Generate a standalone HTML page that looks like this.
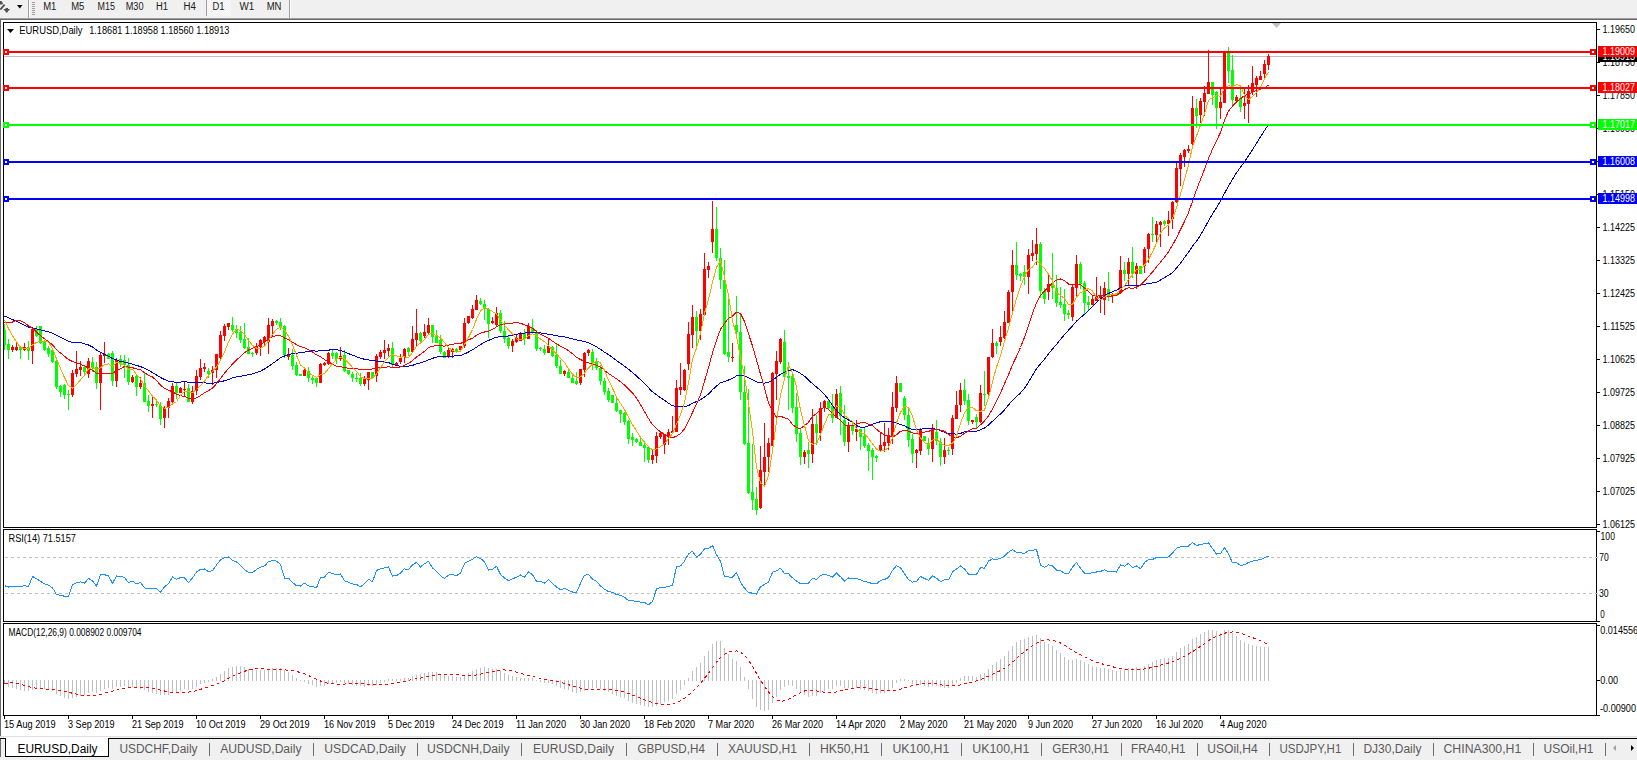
<!DOCTYPE html><html><head><meta charset="utf-8"><style>html,body{margin:0;padding:0;background:#fff;overflow:hidden}svg{display:block}text{font-family:"Liberation Sans",sans-serif}</style></head><body>
<svg width="1637" height="760" viewBox="0 0 1637 760">
<rect x="0" y="0" width="1637" height="760" fill="#fff"/>
<rect x="0" y="0" width="1637" height="18" fill="#f0f0f0"/>
<rect x="0" y="18" width="1637" height="1" fill="#a0a0a0"/>
<rect x="0" y="19" width="1637" height="1" fill="#696969"/>
<rect x="28" y="0" width="1" height="18" fill="#a0a0a0"/>
<rect x="29" y="0" width="1" height="18" fill="#fff"/>
<rect x="32" y="2" width="3" height="1" fill="#a0a0a0"/>
<rect x="32" y="4" width="3" height="1" fill="#a0a0a0"/>
<rect x="32" y="6" width="3" height="1" fill="#a0a0a0"/>
<rect x="32" y="8" width="3" height="1" fill="#a0a0a0"/>
<rect x="32" y="10" width="3" height="1" fill="#a0a0a0"/>
<rect x="32" y="12" width="3" height="1" fill="#a0a0a0"/>
<rect x="32" y="14" width="3" height="1" fill="#a0a0a0"/>
<rect x="289" y="0" width="1" height="18" fill="#a0a0a0"/>
<rect x="290" y="0" width="1" height="18" fill="#fff"/>
<rect x="206" y="0" width="1" height="16" fill="#a0a0a0"/>
<defs><pattern id="chk" width="2" height="2" patternUnits="userSpaceOnUse"><rect width="2" height="2" fill="#f0f0f0"/><rect width="1" height="1" fill="#fafafa"/><rect x="1" y="1" width="1" height="1" fill="#fafafa"/></pattern></defs>
<rect x="207" y="0" width="24" height="16" fill="url(#chk)"/>
<path d="M0 1 L1.5 1 L3 3.5 L2.2 4.5 L0 4.5 Z" fill="#505050"/>
<path d="M4.6 4.6 L0.3 9.6" stroke="#505050" stroke-width="1.8" fill="none"/>
<path d="M5.5 8 L8 8 L8 9 L10 9 L6.75 13 L3.3 9 L5.5 9 Z" fill="#505050"/>
<path d="M17 5 L22.5 5 L19.75 8.5 Z" fill="#000"/>
<text x="43.2" y="10" font-size="10" fill="#1a1a1a" textLength="13.2" lengthAdjust="spacingAndGlyphs">M1</text>
<text x="71.2" y="10" font-size="10" fill="#1a1a1a" textLength="13.2" lengthAdjust="spacingAndGlyphs">M5</text>
<text x="97.6" y="10" font-size="10" fill="#1a1a1a" textLength="17.4" lengthAdjust="spacingAndGlyphs">M15</text>
<text x="125.7" y="10" font-size="10" fill="#1a1a1a" textLength="17.8" lengthAdjust="spacingAndGlyphs">M30</text>
<text x="156" y="10" font-size="10" fill="#1a1a1a" textLength="12" lengthAdjust="spacingAndGlyphs">H1</text>
<text x="183.4" y="10" font-size="10" fill="#1a1a1a" textLength="12.4" lengthAdjust="spacingAndGlyphs">H4</text>
<text x="212.5" y="10" font-size="10" fill="#1a1a1a" textLength="12.0" lengthAdjust="spacingAndGlyphs">D1</text>
<text x="239.5" y="10" font-size="10" fill="#1a1a1a" textLength="14.8" lengthAdjust="spacingAndGlyphs">W1</text>
<text x="266.7" y="10" font-size="10" fill="#1a1a1a" textLength="14.8" lengthAdjust="spacingAndGlyphs">MN</text>
<rect x="0" y="20" width="1" height="716" fill="#696969"/>
<rect x="0" y="736" width="1637" height="1" fill="#e0e0e0"/>
<rect x="3" y="22" width="1594" height="1" fill="#000"/>
<rect x="3" y="527" width="1594" height="1" fill="#000"/>
<rect x="3" y="22" width="1" height="506" fill="#000"/>
<rect x="1596" y="22" width="1" height="506" fill="#000"/>
<rect x="3" y="529" width="1594" height="1" fill="#000"/>
<rect x="3" y="621" width="1594" height="1" fill="#000"/>
<rect x="3" y="529" width="1" height="93" fill="#000"/>
<rect x="1596" y="529" width="1" height="93" fill="#000"/>
<rect x="3" y="623" width="1594" height="1" fill="#000"/>
<rect x="3" y="715" width="1594" height="1" fill="#000"/>
<rect x="3" y="623" width="1" height="93" fill="#000"/>
<rect x="1596" y="623" width="1" height="93" fill="#000"/>
<rect x="1597" y="29" width="3" height="1" fill="#000"/>
<text x="1602.5" y="33" font-size="10" fill="#000" textLength="32.4" lengthAdjust="spacingAndGlyphs">1.19650</text>
<rect x="1597" y="62" width="3" height="1" fill="#000"/>
<text x="1602.5" y="66" font-size="10" fill="#000" textLength="32.4" lengthAdjust="spacingAndGlyphs">1.18750</text>
<rect x="1597" y="95" width="3" height="1" fill="#000"/>
<text x="1602.5" y="99" font-size="10" fill="#000" textLength="32.4" lengthAdjust="spacingAndGlyphs">1.17850</text>
<rect x="1597" y="128" width="3" height="1" fill="#000"/>
<text x="1602.5" y="132" font-size="10" fill="#000" textLength="32.4" lengthAdjust="spacingAndGlyphs">1.16950</text>
<rect x="1597" y="161" width="3" height="1" fill="#000"/>
<text x="1602.5" y="165" font-size="10" fill="#000" textLength="32.4" lengthAdjust="spacingAndGlyphs">1.16050</text>
<rect x="1597" y="194" width="3" height="1" fill="#000"/>
<text x="1602.5" y="198" font-size="10" fill="#000" textLength="32.4" lengthAdjust="spacingAndGlyphs">1.15150</text>
<rect x="1597" y="227" width="3" height="1" fill="#000"/>
<text x="1602.5" y="231" font-size="10" fill="#000" textLength="32.4" lengthAdjust="spacingAndGlyphs">1.14225</text>
<rect x="1597" y="260" width="3" height="1" fill="#000"/>
<text x="1602.5" y="264" font-size="10" fill="#000" textLength="32.4" lengthAdjust="spacingAndGlyphs">1.13325</text>
<rect x="1597" y="293" width="3" height="1" fill="#000"/>
<text x="1602.5" y="297" font-size="10" fill="#000" textLength="32.4" lengthAdjust="spacingAndGlyphs">1.12425</text>
<rect x="1597" y="326" width="3" height="1" fill="#000"/>
<text x="1602.5" y="330" font-size="10" fill="#000" textLength="32.4" lengthAdjust="spacingAndGlyphs">1.11525</text>
<rect x="1597" y="359" width="3" height="1" fill="#000"/>
<text x="1602.5" y="363" font-size="10" fill="#000" textLength="32.4" lengthAdjust="spacingAndGlyphs">1.10625</text>
<rect x="1597" y="392" width="3" height="1" fill="#000"/>
<text x="1602.5" y="396" font-size="10" fill="#000" textLength="32.4" lengthAdjust="spacingAndGlyphs">1.09725</text>
<rect x="1597" y="425" width="3" height="1" fill="#000"/>
<text x="1602.5" y="429" font-size="10" fill="#000" textLength="32.4" lengthAdjust="spacingAndGlyphs">1.08825</text>
<rect x="1597" y="458" width="3" height="1" fill="#000"/>
<text x="1602.5" y="462" font-size="10" fill="#000" textLength="32.4" lengthAdjust="spacingAndGlyphs">1.07925</text>
<rect x="1597" y="491" width="3" height="1" fill="#000"/>
<text x="1602.5" y="495" font-size="10" fill="#000" textLength="32.4" lengthAdjust="spacingAndGlyphs">1.07025</text>
<rect x="1597" y="524" width="3" height="1" fill="#000"/>
<text x="1602.5" y="528" font-size="10" fill="#000" textLength="32.4" lengthAdjust="spacingAndGlyphs">1.06125</text>
<g shape-rendering="crispEdges">
<rect x="4" y="56" width="1592" height="1" fill="#c0c0c0"/>
<rect x="4" y="324" width="1" height="26" fill="#00ff00"/>
<rect x="4" y="330" width="2" height="15" fill="#00ff00"/>
<rect x="8" y="339" width="1" height="20" fill="#00ff00"/>
<rect x="7" y="344" width="3" height="6" fill="#00ff00"/>
<rect x="12" y="345" width="1" height="7" fill="#ff0000"/>
<rect x="11" y="347" width="3" height="3" fill="#ff0000"/>
<rect x="16" y="341" width="1" height="10" fill="#ff0000"/>
<rect x="15" y="347" width="3" height="3" fill="#ff0000"/>
<rect x="20" y="346" width="1" height="13" fill="#00ff00"/>
<rect x="19" y="347" width="3" height="3" fill="#00ff00"/>
<rect x="24" y="343" width="1" height="8" fill="#ff0000"/>
<rect x="23" y="347" width="3" height="3" fill="#ff0000"/>
<rect x="28" y="341" width="1" height="19" fill="#00ff00"/>
<rect x="27" y="347" width="3" height="4" fill="#00ff00"/>
<rect x="32" y="328" width="1" height="36" fill="#ff0000"/>
<rect x="31" y="329" width="3" height="22" fill="#ff0000"/>
<rect x="36" y="326" width="1" height="11" fill="#00ff00"/>
<rect x="35" y="329" width="3" height="7" fill="#00ff00"/>
<rect x="40" y="326" width="1" height="18" fill="#00ff00"/>
<rect x="39" y="326" width="3" height="17" fill="#00ff00"/>
<rect x="44" y="340" width="1" height="11" fill="#00ff00"/>
<rect x="43" y="342" width="3" height="8" fill="#00ff00"/>
<rect x="48" y="346" width="1" height="11" fill="#00ff00"/>
<rect x="47" y="348" width="3" height="6" fill="#00ff00"/>
<rect x="52" y="348" width="1" height="15" fill="#00ff00"/>
<rect x="51" y="350" width="3" height="12" fill="#00ff00"/>
<rect x="56" y="360" width="1" height="29" fill="#00ff00"/>
<rect x="55" y="361" width="3" height="26" fill="#00ff00"/>
<rect x="60" y="385" width="1" height="12" fill="#00ff00"/>
<rect x="59" y="386" width="3" height="6" fill="#00ff00"/>
<rect x="64" y="384" width="1" height="15" fill="#00ff00"/>
<rect x="63" y="385" width="3" height="10" fill="#00ff00"/>
<rect x="68" y="390" width="1" height="20" fill="#00ff00"/>
<rect x="67" y="394" width="3" height="1" fill="#00ff00"/>
<rect x="72" y="370" width="1" height="27" fill="#ff0000"/>
<rect x="71" y="373" width="3" height="22" fill="#ff0000"/>
<rect x="76" y="351" width="1" height="26" fill="#ff0000"/>
<rect x="75" y="369" width="3" height="5" fill="#ff0000"/>
<rect x="80" y="361" width="1" height="15" fill="#ff0000"/>
<rect x="79" y="367" width="3" height="3" fill="#ff0000"/>
<rect x="84" y="366" width="1" height="8" fill="#00ff00"/>
<rect x="83" y="367" width="3" height="5" fill="#00ff00"/>
<rect x="88" y="358" width="1" height="20" fill="#ff0000"/>
<rect x="87" y="361" width="3" height="13" fill="#ff0000"/>
<rect x="92" y="357" width="1" height="15" fill="#00ff00"/>
<rect x="91" y="362" width="3" height="6" fill="#00ff00"/>
<rect x="96" y="362" width="1" height="27" fill="#00ff00"/>
<rect x="95" y="367" width="3" height="16" fill="#00ff00"/>
<rect x="100" y="353" width="1" height="57" fill="#ff0000"/>
<rect x="99" y="355" width="3" height="28" fill="#ff0000"/>
<rect x="104" y="342" width="1" height="21" fill="#ff0000"/>
<rect x="103" y="355" width="3" height="1" fill="#ff0000"/>
<rect x="108" y="353" width="1" height="6" fill="#00ff00"/>
<rect x="107" y="354" width="3" height="5" fill="#00ff00"/>
<rect x="112" y="351" width="1" height="35" fill="#00ff00"/>
<rect x="111" y="353" width="3" height="28" fill="#00ff00"/>
<rect x="116" y="358" width="1" height="29" fill="#ff0000"/>
<rect x="115" y="360" width="3" height="21" fill="#ff0000"/>
<rect x="120" y="355" width="1" height="12" fill="#00ff00"/>
<rect x="119" y="359" width="3" height="4" fill="#00ff00"/>
<rect x="124" y="355" width="1" height="23" fill="#00ff00"/>
<rect x="123" y="360" width="3" height="5" fill="#00ff00"/>
<rect x="128" y="358" width="1" height="27" fill="#00ff00"/>
<rect x="127" y="365" width="3" height="17" fill="#00ff00"/>
<rect x="132" y="375" width="1" height="8" fill="#ff0000"/>
<rect x="131" y="377" width="3" height="5" fill="#ff0000"/>
<rect x="136" y="374" width="1" height="22" fill="#00ff00"/>
<rect x="135" y="376" width="3" height="11" fill="#00ff00"/>
<rect x="140" y="377" width="1" height="12" fill="#ff0000"/>
<rect x="139" y="383" width="3" height="4" fill="#ff0000"/>
<rect x="144" y="373" width="1" height="29" fill="#00ff00"/>
<rect x="143" y="383" width="3" height="19" fill="#00ff00"/>
<rect x="148" y="395" width="1" height="17" fill="#00ff00"/>
<rect x="147" y="401" width="3" height="5" fill="#00ff00"/>
<rect x="152" y="397" width="1" height="21" fill="#ff0000"/>
<rect x="151" y="404" width="3" height="2" fill="#ff0000"/>
<rect x="156" y="401" width="1" height="6" fill="#00ff00"/>
<rect x="155" y="404" width="3" height="1" fill="#00ff00"/>
<rect x="160" y="402" width="1" height="23" fill="#00ff00"/>
<rect x="159" y="406" width="3" height="13" fill="#00ff00"/>
<rect x="164" y="406" width="1" height="22" fill="#ff0000"/>
<rect x="163" y="408" width="3" height="10" fill="#ff0000"/>
<rect x="168" y="398" width="1" height="20" fill="#ff0000"/>
<rect x="167" y="401" width="3" height="7" fill="#ff0000"/>
<rect x="172" y="383" width="1" height="21" fill="#ff0000"/>
<rect x="171" y="386" width="3" height="16" fill="#ff0000"/>
<rect x="176" y="382" width="1" height="17" fill="#00ff00"/>
<rect x="175" y="386" width="3" height="7" fill="#00ff00"/>
<rect x="180" y="387" width="1" height="6" fill="#ff0000"/>
<rect x="179" y="388" width="3" height="5" fill="#ff0000"/>
<rect x="184" y="382" width="1" height="14" fill="#ff0000"/>
<rect x="183" y="389" width="3" height="1" fill="#ff0000"/>
<rect x="188" y="384" width="1" height="18" fill="#00ff00"/>
<rect x="187" y="388" width="3" height="14" fill="#00ff00"/>
<rect x="192" y="386" width="1" height="18" fill="#ff0000"/>
<rect x="191" y="391" width="3" height="11" fill="#ff0000"/>
<rect x="196" y="370" width="1" height="25" fill="#ff0000"/>
<rect x="195" y="376" width="3" height="15" fill="#ff0000"/>
<rect x="200" y="359" width="1" height="21" fill="#ff0000"/>
<rect x="199" y="368" width="3" height="9" fill="#ff0000"/>
<rect x="204" y="363" width="1" height="9" fill="#ff0000"/>
<rect x="203" y="367" width="3" height="2" fill="#ff0000"/>
<rect x="208" y="368" width="1" height="10" fill="#00ff00"/>
<rect x="207" y="371" width="3" height="3" fill="#00ff00"/>
<rect x="212" y="366" width="1" height="19" fill="#ff0000"/>
<rect x="211" y="370" width="3" height="3" fill="#ff0000"/>
<rect x="216" y="354" width="1" height="24" fill="#ff0000"/>
<rect x="215" y="354" width="3" height="16" fill="#ff0000"/>
<rect x="220" y="331" width="1" height="28" fill="#ff0000"/>
<rect x="219" y="335" width="3" height="23" fill="#ff0000"/>
<rect x="224" y="324" width="1" height="17" fill="#ff0000"/>
<rect x="223" y="326" width="3" height="10" fill="#ff0000"/>
<rect x="228" y="323" width="1" height="7" fill="#ff0000"/>
<rect x="227" y="323" width="3" height="4" fill="#ff0000"/>
<rect x="232" y="317" width="1" height="15" fill="#00ff00"/>
<rect x="231" y="325" width="3" height="5" fill="#00ff00"/>
<rect x="236" y="325" width="1" height="13" fill="#00ff00"/>
<rect x="235" y="329" width="3" height="4" fill="#00ff00"/>
<rect x="240" y="326" width="1" height="17" fill="#00ff00"/>
<rect x="239" y="332" width="3" height="8" fill="#00ff00"/>
<rect x="244" y="323" width="1" height="26" fill="#00ff00"/>
<rect x="243" y="339" width="3" height="9" fill="#00ff00"/>
<rect x="248" y="338" width="1" height="16" fill="#00ff00"/>
<rect x="247" y="347" width="3" height="7" fill="#00ff00"/>
<rect x="252" y="352" width="1" height="5" fill="#00ff00"/>
<rect x="251" y="353" width="3" height="1" fill="#00ff00"/>
<rect x="256" y="343" width="1" height="12" fill="#ff0000"/>
<rect x="255" y="346" width="3" height="7" fill="#ff0000"/>
<rect x="260" y="339" width="1" height="17" fill="#ff0000"/>
<rect x="259" y="340" width="3" height="7" fill="#ff0000"/>
<rect x="264" y="336" width="1" height="10" fill="#ff0000"/>
<rect x="263" y="337" width="3" height="5" fill="#ff0000"/>
<rect x="268" y="318" width="1" height="36" fill="#ff0000"/>
<rect x="267" y="325" width="3" height="17" fill="#ff0000"/>
<rect x="272" y="319" width="1" height="17" fill="#ff0000"/>
<rect x="271" y="321" width="3" height="5" fill="#ff0000"/>
<rect x="276" y="320" width="1" height="5" fill="#00ff00"/>
<rect x="275" y="321" width="3" height="2" fill="#00ff00"/>
<rect x="280" y="318" width="1" height="12" fill="#00ff00"/>
<rect x="279" y="322" width="3" height="6" fill="#00ff00"/>
<rect x="284" y="325" width="1" height="33" fill="#00ff00"/>
<rect x="283" y="326" width="3" height="29" fill="#00ff00"/>
<rect x="288" y="348" width="1" height="12" fill="#ff0000"/>
<rect x="287" y="354" width="3" height="3" fill="#ff0000"/>
<rect x="292" y="349" width="1" height="21" fill="#00ff00"/>
<rect x="291" y="355" width="3" height="11" fill="#00ff00"/>
<rect x="296" y="362" width="1" height="14" fill="#00ff00"/>
<rect x="295" y="365" width="3" height="10" fill="#00ff00"/>
<rect x="300" y="374" width="1" height="2" fill="#00ff00"/>
<rect x="299" y="374" width="3" height="2" fill="#00ff00"/>
<rect x="304" y="368" width="1" height="8" fill="#ff0000"/>
<rect x="303" y="370" width="3" height="6" fill="#ff0000"/>
<rect x="308" y="367" width="1" height="15" fill="#00ff00"/>
<rect x="307" y="371" width="3" height="7" fill="#00ff00"/>
<rect x="312" y="376" width="1" height="8" fill="#00ff00"/>
<rect x="311" y="378" width="3" height="2" fill="#00ff00"/>
<rect x="316" y="377" width="1" height="10" fill="#00ff00"/>
<rect x="315" y="378" width="3" height="5" fill="#00ff00"/>
<rect x="320" y="363" width="1" height="20" fill="#ff0000"/>
<rect x="319" y="364" width="3" height="19" fill="#ff0000"/>
<rect x="324" y="362" width="1" height="4" fill="#ff0000"/>
<rect x="323" y="363" width="3" height="2" fill="#ff0000"/>
<rect x="328" y="352" width="1" height="13" fill="#ff0000"/>
<rect x="327" y="353" width="3" height="11" fill="#ff0000"/>
<rect x="332" y="350" width="1" height="9" fill="#00ff00"/>
<rect x="331" y="353" width="3" height="3" fill="#00ff00"/>
<rect x="336" y="352" width="1" height="12" fill="#00ff00"/>
<rect x="335" y="353" width="3" height="6" fill="#00ff00"/>
<rect x="340" y="347" width="1" height="14" fill="#ff0000"/>
<rect x="339" y="356" width="3" height="3" fill="#ff0000"/>
<rect x="344" y="350" width="1" height="22" fill="#00ff00"/>
<rect x="343" y="355" width="3" height="16" fill="#00ff00"/>
<rect x="348" y="370" width="1" height="5" fill="#00ff00"/>
<rect x="347" y="370" width="3" height="4" fill="#00ff00"/>
<rect x="352" y="372" width="1" height="10" fill="#00ff00"/>
<rect x="351" y="374" width="3" height="4" fill="#00ff00"/>
<rect x="356" y="373" width="1" height="9" fill="#00ff00"/>
<rect x="355" y="378" width="3" height="1" fill="#00ff00"/>
<rect x="360" y="373" width="1" height="13" fill="#00ff00"/>
<rect x="359" y="378" width="3" height="6" fill="#00ff00"/>
<rect x="364" y="376" width="1" height="10" fill="#ff0000"/>
<rect x="363" y="379" width="3" height="5" fill="#ff0000"/>
<rect x="368" y="372" width="1" height="18" fill="#ff0000"/>
<rect x="367" y="372" width="3" height="8" fill="#ff0000"/>
<rect x="372" y="372" width="1" height="6" fill="#00ff00"/>
<rect x="371" y="372" width="3" height="6" fill="#00ff00"/>
<rect x="376" y="354" width="1" height="28" fill="#ff0000"/>
<rect x="375" y="356" width="3" height="20" fill="#ff0000"/>
<rect x="380" y="350" width="1" height="9" fill="#ff0000"/>
<rect x="379" y="352" width="3" height="5" fill="#ff0000"/>
<rect x="384" y="340" width="1" height="19" fill="#ff0000"/>
<rect x="383" y="350" width="3" height="3" fill="#ff0000"/>
<rect x="388" y="344" width="1" height="13" fill="#ff0000"/>
<rect x="387" y="348" width="3" height="3" fill="#ff0000"/>
<rect x="392" y="342" width="1" height="26" fill="#00ff00"/>
<rect x="391" y="348" width="3" height="17" fill="#00ff00"/>
<rect x="396" y="362" width="1" height="4" fill="#ff0000"/>
<rect x="395" y="363" width="3" height="2" fill="#ff0000"/>
<rect x="400" y="354" width="1" height="10" fill="#ff0000"/>
<rect x="399" y="358" width="3" height="4" fill="#ff0000"/>
<rect x="404" y="348" width="1" height="15" fill="#ff0000"/>
<rect x="403" y="349" width="3" height="8" fill="#ff0000"/>
<rect x="408" y="347" width="1" height="9" fill="#00ff00"/>
<rect x="407" y="348" width="3" height="4" fill="#00ff00"/>
<rect x="412" y="326" width="1" height="26" fill="#ff0000"/>
<rect x="411" y="339" width="3" height="13" fill="#ff0000"/>
<rect x="416" y="309" width="1" height="37" fill="#ff0000"/>
<rect x="415" y="333" width="3" height="7" fill="#ff0000"/>
<rect x="420" y="332" width="1" height="10" fill="#00ff00"/>
<rect x="419" y="333" width="3" height="8" fill="#00ff00"/>
<rect x="424" y="324" width="1" height="14" fill="#ff0000"/>
<rect x="423" y="332" width="3" height="4" fill="#ff0000"/>
<rect x="428" y="318" width="1" height="16" fill="#ff0000"/>
<rect x="427" y="325" width="3" height="8" fill="#ff0000"/>
<rect x="432" y="325" width="1" height="18" fill="#00ff00"/>
<rect x="431" y="325" width="3" height="12" fill="#00ff00"/>
<rect x="436" y="330" width="1" height="13" fill="#00ff00"/>
<rect x="435" y="336" width="3" height="7" fill="#00ff00"/>
<rect x="440" y="335" width="1" height="19" fill="#00ff00"/>
<rect x="439" y="340" width="3" height="12" fill="#00ff00"/>
<rect x="444" y="351" width="1" height="7" fill="#00ff00"/>
<rect x="443" y="352" width="3" height="6" fill="#00ff00"/>
<rect x="448" y="348" width="1" height="10" fill="#ff0000"/>
<rect x="447" y="350" width="3" height="6" fill="#ff0000"/>
<rect x="452" y="348" width="1" height="10" fill="#ff0000"/>
<rect x="451" y="349" width="3" height="3" fill="#ff0000"/>
<rect x="456" y="348" width="1" height="5" fill="#00ff00"/>
<rect x="455" y="349" width="3" height="3" fill="#00ff00"/>
<rect x="460" y="346" width="1" height="6" fill="#ff0000"/>
<rect x="459" y="346" width="3" height="4" fill="#ff0000"/>
<rect x="464" y="318" width="1" height="30" fill="#ff0000"/>
<rect x="463" y="323" width="3" height="23" fill="#ff0000"/>
<rect x="468" y="316" width="1" height="8" fill="#ff0000"/>
<rect x="467" y="316" width="3" height="7" fill="#ff0000"/>
<rect x="472" y="305" width="1" height="14" fill="#ff0000"/>
<rect x="471" y="309" width="3" height="9" fill="#ff0000"/>
<rect x="476" y="295" width="1" height="15" fill="#ff0000"/>
<rect x="475" y="300" width="3" height="10" fill="#ff0000"/>
<rect x="480" y="298" width="1" height="7" fill="#00ff00"/>
<rect x="479" y="301" width="3" height="3" fill="#00ff00"/>
<rect x="484" y="300" width="1" height="20" fill="#00ff00"/>
<rect x="483" y="304" width="3" height="5" fill="#00ff00"/>
<rect x="488" y="308" width="1" height="30" fill="#00ff00"/>
<rect x="487" y="309" width="3" height="15" fill="#00ff00"/>
<rect x="492" y="317" width="1" height="7" fill="#ff0000"/>
<rect x="491" y="321" width="3" height="2" fill="#ff0000"/>
<rect x="496" y="307" width="1" height="19" fill="#ff0000"/>
<rect x="495" y="313" width="3" height="12" fill="#ff0000"/>
<rect x="500" y="310" width="1" height="23" fill="#00ff00"/>
<rect x="499" y="313" width="3" height="18" fill="#00ff00"/>
<rect x="504" y="321" width="1" height="22" fill="#00ff00"/>
<rect x="503" y="331" width="3" height="8" fill="#00ff00"/>
<rect x="508" y="336" width="1" height="13" fill="#00ff00"/>
<rect x="507" y="338" width="3" height="8" fill="#00ff00"/>
<rect x="512" y="339" width="1" height="13" fill="#ff0000"/>
<rect x="511" y="341" width="3" height="5" fill="#ff0000"/>
<rect x="516" y="335" width="1" height="8" fill="#ff0000"/>
<rect x="515" y="338" width="3" height="4" fill="#ff0000"/>
<rect x="520" y="332" width="1" height="9" fill="#ff0000"/>
<rect x="519" y="333" width="3" height="8" fill="#ff0000"/>
<rect x="524" y="329" width="1" height="16" fill="#00ff00"/>
<rect x="523" y="333" width="3" height="6" fill="#00ff00"/>
<rect x="528" y="323" width="1" height="16" fill="#ff0000"/>
<rect x="527" y="326" width="3" height="13" fill="#ff0000"/>
<rect x="532" y="319" width="1" height="15" fill="#00ff00"/>
<rect x="531" y="328" width="3" height="5" fill="#00ff00"/>
<rect x="536" y="330" width="1" height="21" fill="#00ff00"/>
<rect x="535" y="332" width="3" height="17" fill="#00ff00"/>
<rect x="540" y="347" width="1" height="4" fill="#00ff00"/>
<rect x="539" y="348" width="3" height="1" fill="#00ff00"/>
<rect x="544" y="345" width="1" height="10" fill="#00ff00"/>
<rect x="543" y="349" width="3" height="4" fill="#00ff00"/>
<rect x="548" y="339" width="1" height="14" fill="#ff0000"/>
<rect x="547" y="346" width="3" height="7" fill="#ff0000"/>
<rect x="552" y="346" width="1" height="11" fill="#00ff00"/>
<rect x="551" y="347" width="3" height="9" fill="#00ff00"/>
<rect x="556" y="344" width="1" height="24" fill="#00ff00"/>
<rect x="555" y="355" width="3" height="11" fill="#00ff00"/>
<rect x="560" y="360" width="1" height="14" fill="#00ff00"/>
<rect x="559" y="366" width="3" height="8" fill="#00ff00"/>
<rect x="564" y="370" width="1" height="6" fill="#ff0000"/>
<rect x="563" y="371" width="3" height="3" fill="#ff0000"/>
<rect x="568" y="369" width="1" height="9" fill="#00ff00"/>
<rect x="567" y="372" width="3" height="6" fill="#00ff00"/>
<rect x="572" y="374" width="1" height="9" fill="#00ff00"/>
<rect x="571" y="378" width="3" height="5" fill="#00ff00"/>
<rect x="576" y="372" width="1" height="13" fill="#00ff00"/>
<rect x="575" y="381" width="3" height="3" fill="#00ff00"/>
<rect x="580" y="369" width="1" height="16" fill="#ff0000"/>
<rect x="579" y="369" width="3" height="14" fill="#ff0000"/>
<rect x="584" y="352" width="1" height="25" fill="#ff0000"/>
<rect x="583" y="353" width="3" height="17" fill="#ff0000"/>
<rect x="588" y="349" width="1" height="7" fill="#ff0000"/>
<rect x="587" y="350" width="3" height="3" fill="#ff0000"/>
<rect x="592" y="349" width="1" height="21" fill="#00ff00"/>
<rect x="591" y="352" width="3" height="11" fill="#00ff00"/>
<rect x="596" y="358" width="1" height="12" fill="#00ff00"/>
<rect x="595" y="361" width="3" height="7" fill="#00ff00"/>
<rect x="600" y="365" width="1" height="20" fill="#00ff00"/>
<rect x="599" y="368" width="3" height="13" fill="#00ff00"/>
<rect x="604" y="378" width="1" height="17" fill="#00ff00"/>
<rect x="603" y="381" width="3" height="11" fill="#00ff00"/>
<rect x="608" y="388" width="1" height="14" fill="#00ff00"/>
<rect x="607" y="391" width="3" height="9" fill="#00ff00"/>
<rect x="612" y="395" width="1" height="8" fill="#00ff00"/>
<rect x="611" y="395" width="3" height="8" fill="#00ff00"/>
<rect x="616" y="398" width="1" height="14" fill="#00ff00"/>
<rect x="615" y="403" width="3" height="8" fill="#00ff00"/>
<rect x="620" y="410" width="1" height="13" fill="#00ff00"/>
<rect x="619" y="410" width="3" height="4" fill="#00ff00"/>
<rect x="624" y="412" width="1" height="13" fill="#00ff00"/>
<rect x="623" y="413" width="3" height="9" fill="#00ff00"/>
<rect x="628" y="420" width="1" height="24" fill="#00ff00"/>
<rect x="627" y="421" width="3" height="18" fill="#00ff00"/>
<rect x="632" y="433" width="1" height="13" fill="#00ff00"/>
<rect x="631" y="437" width="3" height="3" fill="#00ff00"/>
<rect x="636" y="438" width="1" height="5" fill="#00ff00"/>
<rect x="635" y="439" width="3" height="3" fill="#00ff00"/>
<rect x="640" y="438" width="1" height="8" fill="#00ff00"/>
<rect x="639" y="442" width="3" height="4" fill="#00ff00"/>
<rect x="644" y="441" width="1" height="21" fill="#00ff00"/>
<rect x="643" y="445" width="3" height="3" fill="#00ff00"/>
<rect x="648" y="446" width="1" height="17" fill="#00ff00"/>
<rect x="647" y="447" width="3" height="13" fill="#00ff00"/>
<rect x="652" y="449" width="1" height="15" fill="#ff0000"/>
<rect x="651" y="455" width="3" height="5" fill="#ff0000"/>
<rect x="656" y="432" width="1" height="31" fill="#ff0000"/>
<rect x="655" y="436" width="3" height="20" fill="#ff0000"/>
<rect x="660" y="431" width="1" height="8" fill="#ff0000"/>
<rect x="659" y="433" width="3" height="4" fill="#ff0000"/>
<rect x="664" y="434" width="1" height="20" fill="#ff0000"/>
<rect x="663" y="434" width="3" height="11" fill="#ff0000"/>
<rect x="668" y="429" width="1" height="16" fill="#ff0000"/>
<rect x="667" y="432" width="3" height="5" fill="#ff0000"/>
<rect x="672" y="416" width="1" height="18" fill="#ff0000"/>
<rect x="671" y="431" width="3" height="2" fill="#ff0000"/>
<rect x="676" y="380" width="1" height="52" fill="#ff0000"/>
<rect x="675" y="388" width="3" height="44" fill="#ff0000"/>
<rect x="680" y="363" width="1" height="32" fill="#ff0000"/>
<rect x="679" y="387" width="3" height="3" fill="#ff0000"/>
<rect x="684" y="369" width="1" height="22" fill="#ff0000"/>
<rect x="683" y="370" width="3" height="20" fill="#ff0000"/>
<rect x="688" y="322" width="1" height="48" fill="#ff0000"/>
<rect x="687" y="334" width="3" height="30" fill="#ff0000"/>
<rect x="692" y="305" width="1" height="43" fill="#ff0000"/>
<rect x="691" y="317" width="3" height="18" fill="#ff0000"/>
<rect x="696" y="311" width="1" height="35" fill="#00ff00"/>
<rect x="695" y="317" width="3" height="14" fill="#00ff00"/>
<rect x="700" y="309" width="1" height="31" fill="#ff0000"/>
<rect x="699" y="314" width="3" height="17" fill="#ff0000"/>
<rect x="704" y="253" width="1" height="62" fill="#ff0000"/>
<rect x="703" y="269" width="3" height="46" fill="#ff0000"/>
<rect x="708" y="262" width="1" height="16" fill="#ff0000"/>
<rect x="707" y="266" width="3" height="4" fill="#ff0000"/>
<rect x="712" y="201" width="1" height="52" fill="#ff0000"/>
<rect x="711" y="229" width="3" height="13" fill="#ff0000"/>
<rect x="716" y="207" width="1" height="54" fill="#00ff00"/>
<rect x="715" y="229" width="3" height="29" fill="#00ff00"/>
<rect x="720" y="248" width="1" height="41" fill="#00ff00"/>
<rect x="719" y="258" width="3" height="22" fill="#00ff00"/>
<rect x="724" y="260" width="1" height="95" fill="#00ff00"/>
<rect x="723" y="280" width="3" height="74" fill="#00ff00"/>
<rect x="728" y="299" width="1" height="63" fill="#00ff00"/>
<rect x="727" y="352" width="3" height="5" fill="#00ff00"/>
<rect x="732" y="343" width="1" height="19" fill="#ff0000"/>
<rect x="731" y="357" width="3" height="1" fill="#ff0000"/>
<rect x="736" y="296" width="1" height="38" fill="#00ff00"/>
<rect x="735" y="325" width="3" height="7" fill="#00ff00"/>
<rect x="740" y="313" width="1" height="87" fill="#00ff00"/>
<rect x="739" y="332" width="3" height="60" fill="#00ff00"/>
<rect x="744" y="366" width="1" height="79" fill="#00ff00"/>
<rect x="743" y="392" width="3" height="52" fill="#00ff00"/>
<rect x="748" y="389" width="1" height="105" fill="#00ff00"/>
<rect x="747" y="443" width="3" height="50" fill="#00ff00"/>
<rect x="752" y="444" width="1" height="66" fill="#00ff00"/>
<rect x="751" y="492" width="3" height="8" fill="#00ff00"/>
<rect x="756" y="487" width="1" height="28" fill="#00ff00"/>
<rect x="755" y="499" width="3" height="11" fill="#00ff00"/>
<rect x="760" y="446" width="1" height="63" fill="#ff0000"/>
<rect x="759" y="470" width="3" height="38" fill="#ff0000"/>
<rect x="764" y="423" width="1" height="62" fill="#ff0000"/>
<rect x="763" y="457" width="3" height="15" fill="#ff0000"/>
<rect x="768" y="438" width="1" height="34" fill="#ff0000"/>
<rect x="767" y="443" width="3" height="14" fill="#ff0000"/>
<rect x="772" y="372" width="1" height="74" fill="#ff0000"/>
<rect x="771" y="373" width="3" height="73" fill="#ff0000"/>
<rect x="776" y="351" width="1" height="49" fill="#ff0000"/>
<rect x="775" y="361" width="3" height="13" fill="#ff0000"/>
<rect x="780" y="338" width="1" height="26" fill="#ff0000"/>
<rect x="779" y="339" width="3" height="23" fill="#ff0000"/>
<rect x="784" y="330" width="1" height="47" fill="#00ff00"/>
<rect x="783" y="342" width="3" height="35" fill="#00ff00"/>
<rect x="788" y="362" width="1" height="48" fill="#00ff00"/>
<rect x="787" y="376" width="3" height="2" fill="#00ff00"/>
<rect x="792" y="373" width="1" height="40" fill="#00ff00"/>
<rect x="791" y="376" width="3" height="32" fill="#00ff00"/>
<rect x="796" y="393" width="1" height="49" fill="#00ff00"/>
<rect x="795" y="407" width="3" height="27" fill="#00ff00"/>
<rect x="800" y="429" width="1" height="36" fill="#00ff00"/>
<rect x="799" y="433" width="3" height="24" fill="#00ff00"/>
<rect x="804" y="450" width="1" height="14" fill="#ff0000"/>
<rect x="803" y="452" width="3" height="5" fill="#ff0000"/>
<rect x="808" y="442" width="1" height="26" fill="#00ff00"/>
<rect x="807" y="450" width="3" height="4" fill="#00ff00"/>
<rect x="812" y="409" width="1" height="54" fill="#ff0000"/>
<rect x="811" y="424" width="3" height="30" fill="#ff0000"/>
<rect x="816" y="415" width="1" height="30" fill="#00ff00"/>
<rect x="815" y="424" width="3" height="9" fill="#00ff00"/>
<rect x="820" y="402" width="1" height="39" fill="#ff0000"/>
<rect x="819" y="408" width="3" height="25" fill="#ff0000"/>
<rect x="824" y="400" width="1" height="12" fill="#ff0000"/>
<rect x="823" y="401" width="3" height="7" fill="#ff0000"/>
<rect x="828" y="400" width="1" height="10" fill="#00ff00"/>
<rect x="827" y="401" width="3" height="7" fill="#00ff00"/>
<rect x="832" y="394" width="1" height="29" fill="#00ff00"/>
<rect x="831" y="406" width="3" height="12" fill="#00ff00"/>
<rect x="836" y="389" width="1" height="29" fill="#ff0000"/>
<rect x="835" y="394" width="3" height="24" fill="#ff0000"/>
<rect x="840" y="386" width="1" height="49" fill="#00ff00"/>
<rect x="839" y="393" width="3" height="23" fill="#00ff00"/>
<rect x="844" y="405" width="1" height="41" fill="#00ff00"/>
<rect x="843" y="420" width="3" height="22" fill="#00ff00"/>
<rect x="848" y="422" width="1" height="30" fill="#ff0000"/>
<rect x="847" y="425" width="3" height="17" fill="#ff0000"/>
<rect x="852" y="423" width="1" height="12" fill="#00ff00"/>
<rect x="851" y="425" width="3" height="6" fill="#00ff00"/>
<rect x="856" y="420" width="1" height="21" fill="#ff0000"/>
<rect x="855" y="429" width="3" height="3" fill="#ff0000"/>
<rect x="860" y="429" width="1" height="21" fill="#00ff00"/>
<rect x="859" y="429" width="3" height="8" fill="#00ff00"/>
<rect x="864" y="428" width="1" height="20" fill="#00ff00"/>
<rect x="863" y="436" width="3" height="10" fill="#00ff00"/>
<rect x="868" y="443" width="1" height="28" fill="#00ff00"/>
<rect x="867" y="445" width="3" height="6" fill="#00ff00"/>
<rect x="872" y="448" width="1" height="32" fill="#00ff00"/>
<rect x="871" y="450" width="3" height="7" fill="#00ff00"/>
<rect x="876" y="455" width="1" height="7" fill="#00ff00"/>
<rect x="875" y="456" width="3" height="2" fill="#00ff00"/>
<rect x="880" y="433" width="1" height="18" fill="#ff0000"/>
<rect x="879" y="445" width="3" height="5" fill="#ff0000"/>
<rect x="884" y="423" width="1" height="29" fill="#ff0000"/>
<rect x="883" y="442" width="3" height="4" fill="#ff0000"/>
<rect x="888" y="428" width="1" height="22" fill="#ff0000"/>
<rect x="887" y="435" width="3" height="8" fill="#ff0000"/>
<rect x="892" y="392" width="1" height="52" fill="#ff0000"/>
<rect x="891" y="407" width="3" height="30" fill="#ff0000"/>
<rect x="896" y="376" width="1" height="36" fill="#ff0000"/>
<rect x="895" y="383" width="3" height="25" fill="#ff0000"/>
<rect x="900" y="383" width="1" height="9" fill="#00ff00"/>
<rect x="899" y="383" width="3" height="9" fill="#00ff00"/>
<rect x="904" y="396" width="1" height="24" fill="#00ff00"/>
<rect x="903" y="398" width="3" height="17" fill="#00ff00"/>
<rect x="908" y="409" width="1" height="38" fill="#00ff00"/>
<rect x="907" y="415" width="3" height="25" fill="#00ff00"/>
<rect x="912" y="434" width="1" height="29" fill="#00ff00"/>
<rect x="911" y="439" width="3" height="15" fill="#00ff00"/>
<rect x="916" y="449" width="1" height="19" fill="#ff0000"/>
<rect x="915" y="450" width="3" height="3" fill="#ff0000"/>
<rect x="920" y="428" width="1" height="27" fill="#ff0000"/>
<rect x="919" y="430" width="3" height="21" fill="#ff0000"/>
<rect x="924" y="436" width="1" height="5" fill="#00ff00"/>
<rect x="923" y="436" width="3" height="5" fill="#00ff00"/>
<rect x="928" y="438" width="1" height="17" fill="#00ff00"/>
<rect x="927" y="443" width="3" height="6" fill="#00ff00"/>
<rect x="932" y="424" width="1" height="38" fill="#ff0000"/>
<rect x="931" y="430" width="3" height="19" fill="#ff0000"/>
<rect x="936" y="420" width="1" height="25" fill="#00ff00"/>
<rect x="935" y="432" width="3" height="9" fill="#00ff00"/>
<rect x="940" y="438" width="1" height="28" fill="#00ff00"/>
<rect x="939" y="442" width="3" height="15" fill="#00ff00"/>
<rect x="944" y="438" width="1" height="26" fill="#ff0000"/>
<rect x="943" y="450" width="3" height="7" fill="#ff0000"/>
<rect x="948" y="447" width="1" height="8" fill="#00ff00"/>
<rect x="947" y="450" width="3" height="1" fill="#00ff00"/>
<rect x="952" y="415" width="1" height="40" fill="#ff0000"/>
<rect x="951" y="418" width="3" height="31" fill="#ff0000"/>
<rect x="956" y="391" width="1" height="28" fill="#ff0000"/>
<rect x="955" y="405" width="3" height="14" fill="#ff0000"/>
<rect x="960" y="383" width="1" height="29" fill="#ff0000"/>
<rect x="959" y="390" width="3" height="15" fill="#ff0000"/>
<rect x="964" y="379" width="1" height="26" fill="#00ff00"/>
<rect x="963" y="390" width="3" height="11" fill="#00ff00"/>
<rect x="968" y="394" width="1" height="31" fill="#00ff00"/>
<rect x="967" y="400" width="3" height="21" fill="#00ff00"/>
<rect x="972" y="420" width="1" height="4" fill="#ff0000"/>
<rect x="971" y="420" width="3" height="2" fill="#ff0000"/>
<rect x="976" y="414" width="1" height="14" fill="#00ff00"/>
<rect x="975" y="417" width="3" height="5" fill="#00ff00"/>
<rect x="980" y="385" width="1" height="38" fill="#ff0000"/>
<rect x="979" y="393" width="3" height="29" fill="#ff0000"/>
<rect x="984" y="371" width="1" height="35" fill="#00ff00"/>
<rect x="983" y="394" width="3" height="1" fill="#00ff00"/>
<rect x="988" y="357" width="1" height="38" fill="#ff0000"/>
<rect x="987" y="357" width="3" height="37" fill="#ff0000"/>
<rect x="992" y="329" width="1" height="29" fill="#ff0000"/>
<rect x="991" y="343" width="3" height="14" fill="#ff0000"/>
<rect x="996" y="341" width="1" height="13" fill="#00ff00"/>
<rect x="995" y="343" width="3" height="3" fill="#00ff00"/>
<rect x="1000" y="326" width="1" height="20" fill="#ff0000"/>
<rect x="999" y="337" width="3" height="5" fill="#ff0000"/>
<rect x="1004" y="311" width="1" height="28" fill="#ff0000"/>
<rect x="1003" y="322" width="3" height="16" fill="#ff0000"/>
<rect x="1008" y="290" width="1" height="33" fill="#ff0000"/>
<rect x="1007" y="292" width="3" height="31" fill="#ff0000"/>
<rect x="1012" y="250" width="1" height="61" fill="#ff0000"/>
<rect x="1011" y="265" width="3" height="27" fill="#ff0000"/>
<rect x="1016" y="242" width="1" height="38" fill="#00ff00"/>
<rect x="1015" y="265" width="3" height="10" fill="#00ff00"/>
<rect x="1020" y="273" width="1" height="8" fill="#00ff00"/>
<rect x="1019" y="274" width="3" height="2" fill="#00ff00"/>
<rect x="1024" y="265" width="1" height="20" fill="#00ff00"/>
<rect x="1023" y="272" width="3" height="5" fill="#00ff00"/>
<rect x="1028" y="249" width="1" height="45" fill="#ff0000"/>
<rect x="1027" y="255" width="3" height="22" fill="#ff0000"/>
<rect x="1032" y="240" width="1" height="21" fill="#ff0000"/>
<rect x="1031" y="253" width="3" height="3" fill="#ff0000"/>
<rect x="1036" y="228" width="1" height="37" fill="#ff0000"/>
<rect x="1035" y="244" width="3" height="10" fill="#ff0000"/>
<rect x="1040" y="242" width="1" height="56" fill="#00ff00"/>
<rect x="1039" y="244" width="3" height="47" fill="#00ff00"/>
<rect x="1044" y="288" width="1" height="16" fill="#00ff00"/>
<rect x="1043" y="291" width="3" height="8" fill="#00ff00"/>
<rect x="1048" y="275" width="1" height="25" fill="#ff0000"/>
<rect x="1047" y="284" width="3" height="8" fill="#ff0000"/>
<rect x="1052" y="253" width="1" height="46" fill="#00ff00"/>
<rect x="1051" y="283" width="3" height="5" fill="#00ff00"/>
<rect x="1056" y="275" width="1" height="32" fill="#00ff00"/>
<rect x="1055" y="288" width="3" height="15" fill="#00ff00"/>
<rect x="1060" y="287" width="1" height="21" fill="#00ff00"/>
<rect x="1059" y="302" width="3" height="3" fill="#00ff00"/>
<rect x="1064" y="289" width="1" height="32" fill="#00ff00"/>
<rect x="1063" y="304" width="3" height="10" fill="#00ff00"/>
<rect x="1068" y="310" width="1" height="9" fill="#00ff00"/>
<rect x="1067" y="313" width="3" height="2" fill="#00ff00"/>
<rect x="1072" y="285" width="1" height="36" fill="#ff0000"/>
<rect x="1071" y="287" width="3" height="30" fill="#ff0000"/>
<rect x="1076" y="255" width="1" height="41" fill="#ff0000"/>
<rect x="1075" y="264" width="3" height="24" fill="#ff0000"/>
<rect x="1080" y="262" width="1" height="27" fill="#00ff00"/>
<rect x="1079" y="264" width="3" height="20" fill="#00ff00"/>
<rect x="1084" y="281" width="1" height="33" fill="#00ff00"/>
<rect x="1083" y="283" width="3" height="20" fill="#00ff00"/>
<rect x="1088" y="296" width="1" height="15" fill="#00ff00"/>
<rect x="1087" y="302" width="3" height="3" fill="#00ff00"/>
<rect x="1092" y="295" width="1" height="10" fill="#ff0000"/>
<rect x="1091" y="299" width="3" height="6" fill="#ff0000"/>
<rect x="1096" y="277" width="1" height="24" fill="#ff0000"/>
<rect x="1095" y="297" width="3" height="4" fill="#ff0000"/>
<rect x="1100" y="286" width="1" height="27" fill="#ff0000"/>
<rect x="1099" y="295" width="3" height="3" fill="#ff0000"/>
<rect x="1104" y="282" width="1" height="33" fill="#ff0000"/>
<rect x="1103" y="288" width="3" height="12" fill="#ff0000"/>
<rect x="1108" y="272" width="1" height="29" fill="#00ff00"/>
<rect x="1107" y="289" width="3" height="7" fill="#00ff00"/>
<rect x="1112" y="293" width="1" height="10" fill="#ff0000"/>
<rect x="1111" y="294" width="3" height="2" fill="#ff0000"/>
<rect x="1116" y="293" width="1" height="3" fill="#00ff00"/>
<rect x="1115" y="293" width="3" height="3" fill="#00ff00"/>
<rect x="1120" y="256" width="1" height="38" fill="#ff0000"/>
<rect x="1119" y="270" width="3" height="23" fill="#ff0000"/>
<rect x="1124" y="262" width="1" height="19" fill="#00ff00"/>
<rect x="1123" y="270" width="3" height="4" fill="#00ff00"/>
<rect x="1128" y="258" width="1" height="27" fill="#ff0000"/>
<rect x="1127" y="262" width="3" height="12" fill="#ff0000"/>
<rect x="1132" y="247" width="1" height="31" fill="#00ff00"/>
<rect x="1131" y="262" width="3" height="12" fill="#00ff00"/>
<rect x="1136" y="263" width="1" height="26" fill="#ff0000"/>
<rect x="1135" y="266" width="3" height="8" fill="#ff0000"/>
<rect x="1140" y="266" width="1" height="8" fill="#00ff00"/>
<rect x="1139" y="266" width="3" height="8" fill="#00ff00"/>
<rect x="1144" y="247" width="1" height="26" fill="#ff0000"/>
<rect x="1143" y="249" width="3" height="17" fill="#ff0000"/>
<rect x="1148" y="233" width="1" height="30" fill="#ff0000"/>
<rect x="1147" y="234" width="3" height="15" fill="#ff0000"/>
<rect x="1152" y="217" width="1" height="25" fill="#00ff00"/>
<rect x="1151" y="234" width="3" height="1" fill="#00ff00"/>
<rect x="1156" y="221" width="1" height="22" fill="#ff0000"/>
<rect x="1155" y="224" width="3" height="11" fill="#ff0000"/>
<rect x="1160" y="221" width="1" height="26" fill="#ff0000"/>
<rect x="1159" y="222" width="3" height="3" fill="#ff0000"/>
<rect x="1164" y="220" width="1" height="6" fill="#00ff00"/>
<rect x="1163" y="221" width="3" height="3" fill="#00ff00"/>
<rect x="1168" y="211" width="1" height="25" fill="#ff0000"/>
<rect x="1167" y="220" width="3" height="4" fill="#ff0000"/>
<rect x="1172" y="201" width="1" height="28" fill="#ff0000"/>
<rect x="1171" y="202" width="3" height="17" fill="#ff0000"/>
<rect x="1176" y="163" width="1" height="40" fill="#ff0000"/>
<rect x="1175" y="168" width="3" height="34" fill="#ff0000"/>
<rect x="1180" y="153" width="1" height="33" fill="#ff0000"/>
<rect x="1179" y="155" width="3" height="14" fill="#ff0000"/>
<rect x="1184" y="149" width="1" height="18" fill="#ff0000"/>
<rect x="1183" y="150" width="3" height="7" fill="#ff0000"/>
<rect x="1188" y="145" width="1" height="8" fill="#ff0000"/>
<rect x="1187" y="149" width="3" height="2" fill="#ff0000"/>
<rect x="1192" y="96" width="1" height="49" fill="#ff0000"/>
<rect x="1191" y="108" width="3" height="36" fill="#ff0000"/>
<rect x="1196" y="99" width="1" height="29" fill="#00ff00"/>
<rect x="1195" y="108" width="3" height="8" fill="#00ff00"/>
<rect x="1200" y="98" width="1" height="25" fill="#ff0000"/>
<rect x="1199" y="101" width="3" height="14" fill="#ff0000"/>
<rect x="1204" y="86" width="1" height="30" fill="#ff0000"/>
<rect x="1203" y="93" width="3" height="9" fill="#ff0000"/>
<rect x="1208" y="50" width="1" height="44" fill="#ff0000"/>
<rect x="1207" y="82" width="3" height="12" fill="#ff0000"/>
<rect x="1212" y="82" width="1" height="23" fill="#00ff00"/>
<rect x="1211" y="82" width="3" height="13" fill="#00ff00"/>
<rect x="1216" y="91" width="1" height="38" fill="#00ff00"/>
<rect x="1215" y="92" width="3" height="16" fill="#00ff00"/>
<rect x="1220" y="89" width="1" height="30" fill="#ff0000"/>
<rect x="1219" y="102" width="3" height="6" fill="#ff0000"/>
<rect x="1224" y="53" width="1" height="50" fill="#ff0000"/>
<rect x="1223" y="53" width="3" height="50" fill="#ff0000"/>
<rect x="1228" y="47" width="1" height="36" fill="#00ff00"/>
<rect x="1227" y="53" width="3" height="18" fill="#00ff00"/>
<rect x="1232" y="55" width="1" height="50" fill="#00ff00"/>
<rect x="1231" y="70" width="3" height="30" fill="#00ff00"/>
<rect x="1236" y="95" width="1" height="7" fill="#ff0000"/>
<rect x="1235" y="97" width="3" height="4" fill="#ff0000"/>
<rect x="1240" y="89" width="1" height="23" fill="#00ff00"/>
<rect x="1239" y="98" width="3" height="9" fill="#00ff00"/>
<rect x="1244" y="89" width="1" height="30" fill="#ff0000"/>
<rect x="1243" y="103" width="3" height="3" fill="#ff0000"/>
<rect x="1248" y="85" width="1" height="38" fill="#ff0000"/>
<rect x="1247" y="91" width="3" height="13" fill="#ff0000"/>
<rect x="1252" y="66" width="1" height="29" fill="#ff0000"/>
<rect x="1251" y="83" width="3" height="9" fill="#ff0000"/>
<rect x="1256" y="76" width="1" height="21" fill="#ff0000"/>
<rect x="1255" y="78" width="3" height="7" fill="#ff0000"/>
<rect x="1260" y="71" width="1" height="9" fill="#ff0000"/>
<rect x="1259" y="76" width="3" height="4" fill="#ff0000"/>
<rect x="1264" y="60" width="1" height="20" fill="#ff0000"/>
<rect x="1263" y="64" width="3" height="10" fill="#ff0000"/>
<rect x="1268" y="54" width="1" height="16" fill="#ff0000"/>
<rect x="1267" y="56" width="3" height="9" fill="#ff0000"/>
</g>
<polyline points="4.5,316.00 8.5,317.79 12.5,319.57 16.5,321.36 20.5,323.26 24.5,325.12 28.5,327.00 32.5,327.99 36.5,328.95 40.5,329.93 44.5,330.92 48.5,331.87 52.5,333.04 56.5,335.11 60.5,337.27 64.5,339.41 68.5,341.40 72.5,342.39 76.5,342.86 80.5,342.70 84.5,343.70 88.5,345.01 92.5,347.02 96.5,349.94 100.5,352.42 104.5,354.49 108.5,356.25 112.5,358.52 116.5,359.96 120.5,361.40 124.5,362.07 128.5,363.13 132.5,364.13 136.5,365.43 140.5,366.57 144.5,368.37 148.5,370.20 152.5,372.70 156.5,375.00 160.5,377.53 164.5,379.50 168.5,381.10 172.5,381.93 176.5,382.13 180.5,382.03 184.5,381.87 188.5,382.10 192.5,382.70 196.5,382.93 200.5,382.97 204.5,382.83 208.5,383.23 212.5,383.33 216.5,382.40 220.5,381.73 224.5,380.77 228.5,379.60 232.5,377.90 236.5,376.97 240.5,376.20 244.5,375.63 248.5,374.70 252.5,373.90 256.5,372.57 260.5,371.13 264.5,369.00 268.5,366.33 272.5,363.57 276.5,360.83 280.5,357.80 284.5,356.00 288.5,354.43 292.5,353.73 296.5,353.13 300.5,352.70 304.5,352.07 308.5,351.27 312.5,350.87 316.5,351.07 320.5,350.93 324.5,350.80 328.5,350.13 332.5,349.63 336.5,349.77 340.5,350.47 344.5,351.93 348.5,353.60 352.5,355.20 356.5,356.73 360.5,358.20 364.5,359.27 368.5,359.90 372.5,360.70 376.5,361.03 380.5,361.43 384.5,361.87 388.5,362.63 392.5,364.07 396.5,365.43 400.5,366.47 404.5,366.30 408.5,366.20 412.5,365.33 416.5,363.97 420.5,362.80 424.5,361.53 428.5,359.80 432.5,358.37 436.5,357.03 440.5,356.60 444.5,356.40 448.5,356.30 452.5,356.10 456.5,355.87 460.5,355.53 464.5,353.97 468.5,352.07 472.5,349.80 476.5,347.20 480.5,344.53 484.5,342.17 488.5,340.53 492.5,338.67 496.5,337.23 500.5,336.50 504.5,336.10 508.5,336.00 512.5,335.23 516.5,334.40 520.5,333.57 524.5,333.20 528.5,332.37 532.5,332.13 536.5,332.63 540.5,332.90 544.5,333.57 548.5,334.27 552.5,334.90 556.5,335.67 560.5,336.40 564.5,336.87 568.5,337.77 572.5,338.87 576.5,339.93 580.5,340.70 584.5,341.70 588.5,342.83 592.5,344.60 596.5,346.83 600.5,349.40 604.5,352.17 608.5,354.70 612.5,357.40 616.5,360.63 620.5,363.40 624.5,366.17 628.5,369.27 632.5,372.53 636.5,375.97 640.5,379.70 644.5,383.33 648.5,387.77 652.5,391.87 656.5,394.80 660.5,397.63 664.5,400.37 668.5,403.23 672.5,405.77 676.5,406.53 680.5,407.00 684.5,406.97 688.5,405.53 692.5,403.37 696.5,401.60 700.5,399.77 704.5,396.97 708.5,394.17 712.5,389.73 716.5,386.07 720.5,382.70 724.5,381.43 728.5,380.00 732.5,378.50 736.5,375.87 740.5,375.13 744.5,375.87 748.5,377.67 752.5,379.67 756.5,381.93 760.5,382.77 764.5,383.10 768.5,382.57 772.5,379.83 776.5,377.33 780.5,374.20 784.5,372.27 788.5,370.43 792.5,369.63 796.5,371.13 800.5,373.43 804.5,376.17 808.5,380.13 812.5,383.70 816.5,387.10 820.5,390.23 824.5,394.63 828.5,399.33 832.5,405.60 836.5,410.17 840.5,414.70 844.5,417.63 848.5,419.93 852.5,422.37 856.5,425.63 860.5,427.13 864.5,427.20 868.5,425.80 872.5,424.37 876.5,422.63 880.5,421.80 884.5,421.30 888.5,421.03 892.5,422.17 896.5,422.90 900.5,424.63 904.5,425.90 908.5,427.97 912.5,429.50 916.5,430.07 920.5,429.20 924.5,428.80 928.5,428.63 932.5,428.83 936.5,429.10 940.5,430.70 944.5,432.33 948.5,433.77 952.5,433.80 956.5,434.17 960.5,433.33 964.5,431.97 968.5,431.80 972.5,431.47 976.5,431.20 980.5,429.77 984.5,428.07 988.5,424.97 992.5,421.20 996.5,417.47 1000.5,413.87 1004.5,409.87 1008.5,405.10 1012.5,400.37 1016.5,396.73 1020.5,392.87 1024.5,388.27 1028.5,382.13 1032.5,375.47 1036.5,368.60 1040.5,363.93 1044.5,359.20 1048.5,353.73 1052.5,348.97 1056.5,344.37 1060.5,339.30 1064.5,334.73 1068.5,330.20 1072.5,325.83 1076.5,321.13 1080.5,317.57 1084.5,314.30 1088.5,310.43 1092.5,306.40 1096.5,302.27 1100.5,299.00 1104.5,295.47 1108.5,293.40 1112.5,291.77 1116.5,290.10 1120.5,287.87 1124.5,286.23 1128.5,285.23 1132.5,285.50 1136.5,285.23 1140.5,285.17 1144.5,284.27 1148.5,283.57 1152.5,282.93 1156.5,282.27 1160.5,280.00 1164.5,277.50 1168.5,275.37 1172.5,272.53 1176.5,268.07 1180.5,263.10 1184.5,257.67 1188.5,252.17 1192.5,246.20 1196.5,241.23 1200.5,235.17 1204.5,228.20 1208.5,220.80 1212.5,213.97 1216.5,207.63 1220.5,201.20 1224.5,193.37 1228.5,185.87 1232.5,179.37 1236.5,172.77 1240.5,167.30 1244.5,161.63 1248.5,155.93 1252.5,149.60 1256.5,143.33 1260.5,136.77 1264.5,130.60 1268.5,124.67" fill="none" stroke="#0000cd" stroke-width="1" shape-rendering="crispEdges"/>
<polyline points="4.5,322.21 8.5,322.63 12.5,322.06 16.5,320.28 20.5,320.85 24.5,322.67 28.5,325.75 32.5,328.22 36.5,332.11 40.5,335.62 44.5,338.76 48.5,341.70 52.5,344.85 56.5,349.64 60.5,353.00 64.5,356.21 68.5,359.57 72.5,361.43 76.5,362.86 80.5,364.29 84.5,365.79 88.5,368.07 92.5,370.36 96.5,373.21 100.5,373.64 104.5,373.79 108.5,373.57 112.5,373.14 116.5,370.93 120.5,368.64 124.5,366.50 128.5,367.07 132.5,367.64 136.5,369.00 140.5,369.86 144.5,372.71 148.5,375.43 152.5,377.00 156.5,380.50 160.5,385.00 164.5,388.57 168.5,390.07 172.5,391.93 176.5,394.07 180.5,395.79 184.5,396.36 188.5,398.07 192.5,398.43 196.5,397.93 200.5,395.57 204.5,392.86 208.5,390.64 212.5,388.21 216.5,383.64 220.5,378.43 224.5,373.07 228.5,368.57 232.5,364.07 236.5,360.07 240.5,356.50 244.5,352.64 248.5,349.93 252.5,348.29 256.5,346.71 260.5,344.79 264.5,342.21 268.5,339.00 272.5,336.64 276.5,335.71 280.5,335.79 284.5,338.00 288.5,339.79 292.5,342.14 296.5,344.64 300.5,346.64 304.5,347.86 308.5,349.57 312.5,351.93 316.5,354.93 320.5,356.86 324.5,359.57 328.5,361.86 332.5,364.21 336.5,366.43 340.5,366.57 344.5,367.71 348.5,368.29 352.5,368.50 356.5,368.71 360.5,369.64 364.5,369.79 368.5,369.29 372.5,368.93 376.5,368.36 380.5,367.57 384.5,367.36 388.5,366.86 392.5,367.29 396.5,367.79 400.5,366.93 404.5,365.21 408.5,363.36 412.5,360.57 416.5,357.00 420.5,354.21 424.5,351.36 428.5,347.64 432.5,346.21 436.5,345.50 440.5,345.57 444.5,346.21 448.5,345.21 452.5,344.21 456.5,343.71 460.5,343.50 464.5,341.50 468.5,339.86 472.5,338.14 476.5,335.29 480.5,333.21 484.5,332.00 488.5,331.07 492.5,329.57 496.5,326.86 500.5,324.93 504.5,324.07 508.5,323.79 512.5,323.07 516.5,322.50 520.5,323.21 524.5,324.79 528.5,326.00 532.5,328.29 536.5,331.50 540.5,334.36 544.5,336.43 548.5,338.21 552.5,341.21 556.5,343.71 560.5,346.21 564.5,348.07 568.5,350.64 572.5,353.79 576.5,357.36 580.5,359.57 584.5,361.50 588.5,362.79 592.5,363.79 596.5,365.14 600.5,367.14 604.5,370.36 608.5,373.50 612.5,376.14 616.5,378.79 620.5,381.79 624.5,384.93 628.5,388.93 632.5,392.93 636.5,398.07 640.5,404.64 644.5,411.57 648.5,418.50 652.5,424.79 656.5,428.79 660.5,431.79 664.5,434.29 668.5,436.43 672.5,437.93 676.5,436.14 680.5,433.71 684.5,428.86 688.5,421.36 692.5,412.50 696.5,404.29 700.5,394.79 704.5,381.21 708.5,367.71 712.5,352.93 716.5,340.36 720.5,329.29 724.5,323.64 728.5,318.29 732.5,316.07 736.5,312.07 740.5,313.57 744.5,321.36 748.5,333.86 752.5,345.93 756.5,359.86 760.5,374.21 764.5,387.86 768.5,403.14 772.5,411.43 776.5,417.29 780.5,416.29 784.5,417.71 788.5,419.14 792.5,424.57 796.5,427.57 800.5,428.50 804.5,425.64 808.5,422.36 812.5,416.29 816.5,413.57 820.5,410.07 824.5,407.07 828.5,409.50 832.5,413.50 836.5,417.43 840.5,420.21 844.5,424.79 848.5,426.07 852.5,425.86 856.5,423.93 860.5,422.79 864.5,422.21 868.5,424.07 872.5,425.79 876.5,429.29 880.5,432.43 884.5,434.93 888.5,436.21 892.5,437.14 896.5,434.86 900.5,431.29 904.5,430.50 908.5,431.14 912.5,432.86 916.5,433.86 920.5,432.79 924.5,432.07 928.5,431.50 932.5,429.57 936.5,429.21 940.5,430.21 944.5,431.29 948.5,434.36 952.5,436.86 956.5,437.86 960.5,436.14 964.5,433.36 968.5,431.00 972.5,428.86 976.5,428.21 980.5,424.86 984.5,421.00 988.5,415.79 992.5,408.86 996.5,400.93 1000.5,392.86 1004.5,383.71 1008.5,374.71 1012.5,364.71 1016.5,356.43 1020.5,347.50 1024.5,337.21 1028.5,325.43 1032.5,313.43 1036.5,302.79 1040.5,295.36 1044.5,291.14 1048.5,286.93 1052.5,282.79 1056.5,280.29 1060.5,279.00 1064.5,280.50 1068.5,284.00 1072.5,284.93 1076.5,284.14 1080.5,284.64 1084.5,288.00 1088.5,291.64 1092.5,295.57 1096.5,296.07 1100.5,295.86 1104.5,296.14 1108.5,296.71 1112.5,296.14 1116.5,295.50 1120.5,292.43 1124.5,289.50 1128.5,287.71 1132.5,288.36 1136.5,287.14 1140.5,285.07 1144.5,281.14 1148.5,276.50 1152.5,272.00 1156.5,266.93 1160.5,262.21 1164.5,257.07 1168.5,251.79 1172.5,245.14 1176.5,237.86 1180.5,229.43 1184.5,221.43 1188.5,212.57 1192.5,201.29 1196.5,190.00 1200.5,179.43 1204.5,169.36 1208.5,158.50 1212.5,149.21 1216.5,141.00 1220.5,132.36 1224.5,120.43 1228.5,111.00 1232.5,106.07 1236.5,101.93 1240.5,98.79 1244.5,95.50 1248.5,94.29 1252.5,92.00 1256.5,90.36 1260.5,89.14 1264.5,87.86 1268.5,85.14" fill="none" stroke="#ff0000" stroke-width="1" shape-rendering="crispEdges"/>
<polyline points="4.5,319.84 8.5,328.62 12.5,335.65 16.5,341.69 20.5,347.70 24.5,348.30 28.5,348.50 32.5,344.90 36.5,342.50 40.5,341.10 44.5,341.50 48.5,342.10 52.5,348.50 56.5,358.70 60.5,368.50 64.5,377.50 68.5,385.70 72.5,388.10 76.5,384.70 80.5,379.90 84.5,375.30 88.5,368.70 92.5,367.50 96.5,370.10 100.5,367.70 104.5,364.50 108.5,363.90 112.5,366.50 116.5,362.10 120.5,363.50 124.5,365.30 128.5,369.90 132.5,369.30 136.5,374.50 140.5,378.70 144.5,386.10 148.5,390.90 152.5,396.30 156.5,399.90 160.5,406.90 164.5,408.30 168.5,407.50 172.5,403.90 176.5,401.50 180.5,395.50 184.5,391.70 188.5,391.70 192.5,392.70 196.5,389.50 200.5,385.50 204.5,381.10 208.5,375.50 212.5,371.30 216.5,366.90 220.5,360.30 224.5,352.10 228.5,342.10 232.5,333.90 236.5,329.50 240.5,330.30 244.5,334.50 248.5,340.50 252.5,345.30 256.5,348.10 260.5,348.30 264.5,346.30 268.5,340.70 272.5,334.30 276.5,329.50 280.5,326.90 284.5,330.30 288.5,336.10 292.5,344.90 296.5,355.30 300.5,364.90 304.5,368.10 308.5,372.70 312.5,375.50 316.5,377.10 320.5,374.90 324.5,373.50 328.5,368.70 332.5,363.90 336.5,359.10 340.5,357.50 344.5,358.90 348.5,362.90 352.5,367.30 356.5,371.30 360.5,376.70 364.5,378.50 368.5,378.30 372.5,378.30 376.5,373.90 380.5,367.70 384.5,361.90 388.5,357.10 392.5,354.50 396.5,355.90 400.5,357.10 404.5,356.90 408.5,357.50 412.5,352.50 416.5,346.50 420.5,342.90 424.5,339.50 428.5,334.30 432.5,333.70 436.5,335.50 440.5,337.70 444.5,342.70 448.5,347.70 452.5,350.30 456.5,352.10 460.5,351.10 464.5,344.30 468.5,337.50 472.5,329.50 476.5,319.30 480.5,310.70 484.5,307.70 488.5,309.10 492.5,311.50 496.5,314.10 500.5,319.50 504.5,325.50 508.5,329.90 512.5,333.90 516.5,338.90 520.5,339.50 524.5,339.50 528.5,335.70 532.5,333.90 536.5,335.90 540.5,338.90 544.5,341.70 548.5,345.70 552.5,350.30 556.5,353.70 560.5,358.70 564.5,362.50 568.5,368.70 572.5,374.10 576.5,377.70 580.5,376.90 584.5,373.30 588.5,367.90 592.5,363.90 596.5,360.70 600.5,362.90 604.5,370.50 608.5,380.30 612.5,388.30 616.5,396.90 620.5,403.50 624.5,409.50 628.5,417.30 632.5,424.70 636.5,430.90 640.5,437.30 644.5,442.50 648.5,446.70 652.5,449.90 656.5,448.90 660.5,446.50 664.5,443.90 668.5,438.50 672.5,433.70 676.5,424.10 680.5,414.90 684.5,402.10 688.5,382.50 692.5,359.70 696.5,348.10 700.5,333.50 704.5,313.30 708.5,299.70 712.5,282.10 716.5,267.50 720.5,260.50 724.5,277.30 728.5,295.30 732.5,320.90 736.5,335.70 740.5,358.10 744.5,376.10 748.5,403.30 752.5,431.70 756.5,467.30 760.5,483.10 764.5,485.90 768.5,476.10 772.5,450.90 776.5,421.30 780.5,395.10 784.5,378.90 788.5,365.70 792.5,372.50 796.5,386.90 800.5,410.30 804.5,425.50 808.5,440.70 812.5,444.10 816.5,443.90 820.5,434.30 824.5,424.10 828.5,414.90 832.5,413.50 836.5,405.90 840.5,407.30 844.5,415.30 848.5,418.90 852.5,421.50 856.5,428.50 860.5,432.70 864.5,433.50 868.5,438.50 872.5,443.70 876.5,449.30 880.5,451.10 884.5,450.50 888.5,447.50 892.5,437.70 896.5,422.90 900.5,412.10 904.5,406.50 908.5,407.30 912.5,416.50 916.5,429.90 920.5,437.70 924.5,442.90 928.5,444.70 932.5,440.10 936.5,438.10 940.5,443.30 944.5,445.30 948.5,445.70 952.5,443.30 956.5,436.30 960.5,423.10 964.5,413.10 968.5,407.10 972.5,407.50 976.5,410.70 980.5,411.30 984.5,410.10 988.5,397.50 992.5,382.10 996.5,366.90 1000.5,355.70 1004.5,341.30 1008.5,328.30 1012.5,312.70 1016.5,298.50 1020.5,286.10 1024.5,276.90 1028.5,269.50 1032.5,267.10 1036.5,261.10 1040.5,264.10 1044.5,268.50 1048.5,274.30 1052.5,281.10 1056.5,292.70 1060.5,295.50 1064.5,298.50 1068.5,304.50 1072.5,304.50 1076.5,296.90 1080.5,292.70 1084.5,290.50 1088.5,288.50 1092.5,290.90 1096.5,297.50 1100.5,299.90 1104.5,297.10 1108.5,295.30 1112.5,294.30 1116.5,293.90 1120.5,288.90 1124.5,285.90 1128.5,279.30 1132.5,275.10 1136.5,269.30 1140.5,269.90 1144.5,265.10 1148.5,259.50 1152.5,251.70 1156.5,243.30 1160.5,233.10 1164.5,227.90 1168.5,225.10 1172.5,218.70 1176.5,207.50 1180.5,194.10 1184.5,179.50 1188.5,165.30 1192.5,146.50 1196.5,135.90 1200.5,125.10 1204.5,113.70 1208.5,100.30 1212.5,97.50 1216.5,95.90 1220.5,96.10 1224.5,88.10 1228.5,85.70 1232.5,86.70 1236.5,84.70 1240.5,85.50 1244.5,95.50 1248.5,99.70 1252.5,96.50 1256.5,92.70 1260.5,86.70 1264.5,78.90 1268.5,71.90" fill="none" stroke="#ffa500" stroke-width="1" shape-rendering="crispEdges"/>
<g shape-rendering="crispEdges">
<rect x="4" y="51" width="1592" height="2" fill="#ff0000"/>
<rect x="3" y="49" width="6" height="6" fill="#ff0000"/>
<rect x="5" y="51" width="2" height="2" fill="#fff"/>
<rect x="1590" y="49" width="6" height="6" fill="#ff0000"/>
<rect x="1592" y="51" width="2" height="2" fill="#fff"/>
<rect x="4" y="87" width="1592" height="2" fill="#ff0000"/>
<rect x="3" y="85" width="6" height="6" fill="#ff0000"/>
<rect x="5" y="87" width="2" height="2" fill="#fff"/>
<rect x="1590" y="85" width="6" height="6" fill="#ff0000"/>
<rect x="1592" y="87" width="2" height="2" fill="#fff"/>
<rect x="4" y="124" width="1592" height="2" fill="#00ff00"/>
<rect x="3" y="122" width="6" height="6" fill="#00ff00"/>
<rect x="5" y="124" width="2" height="2" fill="#fff"/>
<rect x="1590" y="122" width="6" height="6" fill="#00ff00"/>
<rect x="1592" y="124" width="2" height="2" fill="#fff"/>
<rect x="4" y="161" width="1592" height="2" fill="#0000ff"/>
<rect x="3" y="159" width="6" height="6" fill="#0000ff"/>
<rect x="5" y="161" width="2" height="2" fill="#fff"/>
<rect x="1590" y="159" width="6" height="6" fill="#0000ff"/>
<rect x="1592" y="161" width="2" height="2" fill="#fff"/>
<rect x="4" y="198" width="1592" height="2" fill="#0000ff"/>
<rect x="3" y="196" width="6" height="6" fill="#0000ff"/>
<rect x="5" y="198" width="2" height="2" fill="#fff"/>
<rect x="1590" y="196" width="6" height="6" fill="#0000ff"/>
<rect x="1592" y="198" width="2" height="2" fill="#fff"/>
</g>
<rect x="1598" y="51" width="39" height="11" fill="#000"/>
<text x="1602.5" y="60" font-size="10" fill="#fff" textLength="32.4" lengthAdjust="spacingAndGlyphs">1.18913</text>
<rect x="1598" y="46" width="39" height="11" fill="#ff0000"/>
<text x="1602.5" y="55" font-size="10" fill="#fff" textLength="32.4" lengthAdjust="spacingAndGlyphs">1.19009</text>
<rect x="1598" y="82" width="39" height="11" fill="#ff0000"/>
<text x="1602.5" y="91" font-size="10" fill="#fff" textLength="32.4" lengthAdjust="spacingAndGlyphs">1.18027</text>
<rect x="1598" y="119" width="39" height="11" fill="#00ff00"/>
<text x="1602.5" y="128" font-size="10" fill="#fff" textLength="32.4" lengthAdjust="spacingAndGlyphs">1.17017</text>
<rect x="1598" y="156" width="39" height="11" fill="#0000ff"/>
<text x="1602.5" y="165" font-size="10" fill="#fff" textLength="32.4" lengthAdjust="spacingAndGlyphs">1.16008</text>
<rect x="1598" y="193" width="39" height="11" fill="#0000ff"/>
<text x="1602.5" y="202" font-size="10" fill="#fff" textLength="32.4" lengthAdjust="spacingAndGlyphs">1.14998</text>
<path d="M7 29 L14 29 L10.5 33 Z" fill="#000"/>
<text x="19.3" y="34" font-size="10" fill="#000" textLength="63.2" lengthAdjust="spacingAndGlyphs">EURUSD,Daily</text>
<text x="89.2" y="34" font-size="10" fill="#000" textLength="140.2" lengthAdjust="spacingAndGlyphs">1.18681 1.18958 1.18560 1.18913</text>
<path d="M1272 23 L1281 23 L1276.5 28 Z" fill="#c0c0c0"/>
<g shape-rendering="crispEdges">
<rect x="5" y="557" width="3" height="1" fill="#c0c0c0"/>
<rect x="11" y="557" width="3" height="1" fill="#c0c0c0"/>
<rect x="17" y="557" width="3" height="1" fill="#c0c0c0"/>
<rect x="23" y="557" width="3" height="1" fill="#c0c0c0"/>
<rect x="29" y="557" width="3" height="1" fill="#c0c0c0"/>
<rect x="35" y="557" width="3" height="1" fill="#c0c0c0"/>
<rect x="41" y="557" width="3" height="1" fill="#c0c0c0"/>
<rect x="47" y="557" width="3" height="1" fill="#c0c0c0"/>
<rect x="53" y="557" width="3" height="1" fill="#c0c0c0"/>
<rect x="59" y="557" width="3" height="1" fill="#c0c0c0"/>
<rect x="65" y="557" width="3" height="1" fill="#c0c0c0"/>
<rect x="71" y="557" width="3" height="1" fill="#c0c0c0"/>
<rect x="77" y="557" width="3" height="1" fill="#c0c0c0"/>
<rect x="83" y="557" width="3" height="1" fill="#c0c0c0"/>
<rect x="89" y="557" width="3" height="1" fill="#c0c0c0"/>
<rect x="95" y="557" width="3" height="1" fill="#c0c0c0"/>
<rect x="101" y="557" width="3" height="1" fill="#c0c0c0"/>
<rect x="107" y="557" width="3" height="1" fill="#c0c0c0"/>
<rect x="113" y="557" width="3" height="1" fill="#c0c0c0"/>
<rect x="119" y="557" width="3" height="1" fill="#c0c0c0"/>
<rect x="125" y="557" width="3" height="1" fill="#c0c0c0"/>
<rect x="131" y="557" width="3" height="1" fill="#c0c0c0"/>
<rect x="137" y="557" width="3" height="1" fill="#c0c0c0"/>
<rect x="143" y="557" width="3" height="1" fill="#c0c0c0"/>
<rect x="149" y="557" width="3" height="1" fill="#c0c0c0"/>
<rect x="155" y="557" width="3" height="1" fill="#c0c0c0"/>
<rect x="161" y="557" width="3" height="1" fill="#c0c0c0"/>
<rect x="167" y="557" width="3" height="1" fill="#c0c0c0"/>
<rect x="173" y="557" width="3" height="1" fill="#c0c0c0"/>
<rect x="179" y="557" width="3" height="1" fill="#c0c0c0"/>
<rect x="185" y="557" width="3" height="1" fill="#c0c0c0"/>
<rect x="191" y="557" width="3" height="1" fill="#c0c0c0"/>
<rect x="197" y="557" width="3" height="1" fill="#c0c0c0"/>
<rect x="203" y="557" width="3" height="1" fill="#c0c0c0"/>
<rect x="209" y="557" width="3" height="1" fill="#c0c0c0"/>
<rect x="215" y="557" width="3" height="1" fill="#c0c0c0"/>
<rect x="221" y="557" width="3" height="1" fill="#c0c0c0"/>
<rect x="227" y="557" width="3" height="1" fill="#c0c0c0"/>
<rect x="233" y="557" width="3" height="1" fill="#c0c0c0"/>
<rect x="239" y="557" width="3" height="1" fill="#c0c0c0"/>
<rect x="245" y="557" width="3" height="1" fill="#c0c0c0"/>
<rect x="251" y="557" width="3" height="1" fill="#c0c0c0"/>
<rect x="257" y="557" width="3" height="1" fill="#c0c0c0"/>
<rect x="263" y="557" width="3" height="1" fill="#c0c0c0"/>
<rect x="269" y="557" width="3" height="1" fill="#c0c0c0"/>
<rect x="275" y="557" width="3" height="1" fill="#c0c0c0"/>
<rect x="281" y="557" width="3" height="1" fill="#c0c0c0"/>
<rect x="287" y="557" width="3" height="1" fill="#c0c0c0"/>
<rect x="293" y="557" width="3" height="1" fill="#c0c0c0"/>
<rect x="299" y="557" width="3" height="1" fill="#c0c0c0"/>
<rect x="305" y="557" width="3" height="1" fill="#c0c0c0"/>
<rect x="311" y="557" width="3" height="1" fill="#c0c0c0"/>
<rect x="317" y="557" width="3" height="1" fill="#c0c0c0"/>
<rect x="323" y="557" width="3" height="1" fill="#c0c0c0"/>
<rect x="329" y="557" width="3" height="1" fill="#c0c0c0"/>
<rect x="335" y="557" width="3" height="1" fill="#c0c0c0"/>
<rect x="341" y="557" width="3" height="1" fill="#c0c0c0"/>
<rect x="347" y="557" width="3" height="1" fill="#c0c0c0"/>
<rect x="353" y="557" width="3" height="1" fill="#c0c0c0"/>
<rect x="359" y="557" width="3" height="1" fill="#c0c0c0"/>
<rect x="365" y="557" width="3" height="1" fill="#c0c0c0"/>
<rect x="371" y="557" width="3" height="1" fill="#c0c0c0"/>
<rect x="377" y="557" width="3" height="1" fill="#c0c0c0"/>
<rect x="383" y="557" width="3" height="1" fill="#c0c0c0"/>
<rect x="389" y="557" width="3" height="1" fill="#c0c0c0"/>
<rect x="395" y="557" width="3" height="1" fill="#c0c0c0"/>
<rect x="401" y="557" width="3" height="1" fill="#c0c0c0"/>
<rect x="407" y="557" width="3" height="1" fill="#c0c0c0"/>
<rect x="413" y="557" width="3" height="1" fill="#c0c0c0"/>
<rect x="419" y="557" width="3" height="1" fill="#c0c0c0"/>
<rect x="425" y="557" width="3" height="1" fill="#c0c0c0"/>
<rect x="431" y="557" width="3" height="1" fill="#c0c0c0"/>
<rect x="437" y="557" width="3" height="1" fill="#c0c0c0"/>
<rect x="443" y="557" width="3" height="1" fill="#c0c0c0"/>
<rect x="449" y="557" width="3" height="1" fill="#c0c0c0"/>
<rect x="455" y="557" width="3" height="1" fill="#c0c0c0"/>
<rect x="461" y="557" width="3" height="1" fill="#c0c0c0"/>
<rect x="467" y="557" width="3" height="1" fill="#c0c0c0"/>
<rect x="473" y="557" width="3" height="1" fill="#c0c0c0"/>
<rect x="479" y="557" width="3" height="1" fill="#c0c0c0"/>
<rect x="485" y="557" width="3" height="1" fill="#c0c0c0"/>
<rect x="491" y="557" width="3" height="1" fill="#c0c0c0"/>
<rect x="497" y="557" width="3" height="1" fill="#c0c0c0"/>
<rect x="503" y="557" width="3" height="1" fill="#c0c0c0"/>
<rect x="509" y="557" width="3" height="1" fill="#c0c0c0"/>
<rect x="515" y="557" width="3" height="1" fill="#c0c0c0"/>
<rect x="521" y="557" width="3" height="1" fill="#c0c0c0"/>
<rect x="527" y="557" width="3" height="1" fill="#c0c0c0"/>
<rect x="533" y="557" width="3" height="1" fill="#c0c0c0"/>
<rect x="539" y="557" width="3" height="1" fill="#c0c0c0"/>
<rect x="545" y="557" width="3" height="1" fill="#c0c0c0"/>
<rect x="551" y="557" width="3" height="1" fill="#c0c0c0"/>
<rect x="557" y="557" width="3" height="1" fill="#c0c0c0"/>
<rect x="563" y="557" width="3" height="1" fill="#c0c0c0"/>
<rect x="569" y="557" width="3" height="1" fill="#c0c0c0"/>
<rect x="575" y="557" width="3" height="1" fill="#c0c0c0"/>
<rect x="581" y="557" width="3" height="1" fill="#c0c0c0"/>
<rect x="587" y="557" width="3" height="1" fill="#c0c0c0"/>
<rect x="593" y="557" width="3" height="1" fill="#c0c0c0"/>
<rect x="599" y="557" width="3" height="1" fill="#c0c0c0"/>
<rect x="605" y="557" width="3" height="1" fill="#c0c0c0"/>
<rect x="611" y="557" width="3" height="1" fill="#c0c0c0"/>
<rect x="617" y="557" width="3" height="1" fill="#c0c0c0"/>
<rect x="623" y="557" width="3" height="1" fill="#c0c0c0"/>
<rect x="629" y="557" width="3" height="1" fill="#c0c0c0"/>
<rect x="635" y="557" width="3" height="1" fill="#c0c0c0"/>
<rect x="641" y="557" width="3" height="1" fill="#c0c0c0"/>
<rect x="647" y="557" width="3" height="1" fill="#c0c0c0"/>
<rect x="653" y="557" width="3" height="1" fill="#c0c0c0"/>
<rect x="659" y="557" width="3" height="1" fill="#c0c0c0"/>
<rect x="665" y="557" width="3" height="1" fill="#c0c0c0"/>
<rect x="671" y="557" width="3" height="1" fill="#c0c0c0"/>
<rect x="677" y="557" width="3" height="1" fill="#c0c0c0"/>
<rect x="683" y="557" width="3" height="1" fill="#c0c0c0"/>
<rect x="689" y="557" width="3" height="1" fill="#c0c0c0"/>
<rect x="695" y="557" width="3" height="1" fill="#c0c0c0"/>
<rect x="701" y="557" width="3" height="1" fill="#c0c0c0"/>
<rect x="707" y="557" width="3" height="1" fill="#c0c0c0"/>
<rect x="713" y="557" width="3" height="1" fill="#c0c0c0"/>
<rect x="719" y="557" width="3" height="1" fill="#c0c0c0"/>
<rect x="725" y="557" width="3" height="1" fill="#c0c0c0"/>
<rect x="731" y="557" width="3" height="1" fill="#c0c0c0"/>
<rect x="737" y="557" width="3" height="1" fill="#c0c0c0"/>
<rect x="743" y="557" width="3" height="1" fill="#c0c0c0"/>
<rect x="749" y="557" width="3" height="1" fill="#c0c0c0"/>
<rect x="755" y="557" width="3" height="1" fill="#c0c0c0"/>
<rect x="761" y="557" width="3" height="1" fill="#c0c0c0"/>
<rect x="767" y="557" width="3" height="1" fill="#c0c0c0"/>
<rect x="773" y="557" width="3" height="1" fill="#c0c0c0"/>
<rect x="779" y="557" width="3" height="1" fill="#c0c0c0"/>
<rect x="785" y="557" width="3" height="1" fill="#c0c0c0"/>
<rect x="791" y="557" width="3" height="1" fill="#c0c0c0"/>
<rect x="797" y="557" width="3" height="1" fill="#c0c0c0"/>
<rect x="803" y="557" width="3" height="1" fill="#c0c0c0"/>
<rect x="809" y="557" width="3" height="1" fill="#c0c0c0"/>
<rect x="815" y="557" width="3" height="1" fill="#c0c0c0"/>
<rect x="821" y="557" width="3" height="1" fill="#c0c0c0"/>
<rect x="827" y="557" width="3" height="1" fill="#c0c0c0"/>
<rect x="833" y="557" width="3" height="1" fill="#c0c0c0"/>
<rect x="839" y="557" width="3" height="1" fill="#c0c0c0"/>
<rect x="845" y="557" width="3" height="1" fill="#c0c0c0"/>
<rect x="851" y="557" width="3" height="1" fill="#c0c0c0"/>
<rect x="857" y="557" width="3" height="1" fill="#c0c0c0"/>
<rect x="863" y="557" width="3" height="1" fill="#c0c0c0"/>
<rect x="869" y="557" width="3" height="1" fill="#c0c0c0"/>
<rect x="875" y="557" width="3" height="1" fill="#c0c0c0"/>
<rect x="881" y="557" width="3" height="1" fill="#c0c0c0"/>
<rect x="887" y="557" width="3" height="1" fill="#c0c0c0"/>
<rect x="893" y="557" width="3" height="1" fill="#c0c0c0"/>
<rect x="899" y="557" width="3" height="1" fill="#c0c0c0"/>
<rect x="905" y="557" width="3" height="1" fill="#c0c0c0"/>
<rect x="911" y="557" width="3" height="1" fill="#c0c0c0"/>
<rect x="917" y="557" width="3" height="1" fill="#c0c0c0"/>
<rect x="923" y="557" width="3" height="1" fill="#c0c0c0"/>
<rect x="929" y="557" width="3" height="1" fill="#c0c0c0"/>
<rect x="935" y="557" width="3" height="1" fill="#c0c0c0"/>
<rect x="941" y="557" width="3" height="1" fill="#c0c0c0"/>
<rect x="947" y="557" width="3" height="1" fill="#c0c0c0"/>
<rect x="953" y="557" width="3" height="1" fill="#c0c0c0"/>
<rect x="959" y="557" width="3" height="1" fill="#c0c0c0"/>
<rect x="965" y="557" width="3" height="1" fill="#c0c0c0"/>
<rect x="971" y="557" width="3" height="1" fill="#c0c0c0"/>
<rect x="977" y="557" width="3" height="1" fill="#c0c0c0"/>
<rect x="983" y="557" width="3" height="1" fill="#c0c0c0"/>
<rect x="989" y="557" width="3" height="1" fill="#c0c0c0"/>
<rect x="995" y="557" width="3" height="1" fill="#c0c0c0"/>
<rect x="1001" y="557" width="3" height="1" fill="#c0c0c0"/>
<rect x="1007" y="557" width="3" height="1" fill="#c0c0c0"/>
<rect x="1013" y="557" width="3" height="1" fill="#c0c0c0"/>
<rect x="1019" y="557" width="3" height="1" fill="#c0c0c0"/>
<rect x="1025" y="557" width="3" height="1" fill="#c0c0c0"/>
<rect x="1031" y="557" width="3" height="1" fill="#c0c0c0"/>
<rect x="1037" y="557" width="3" height="1" fill="#c0c0c0"/>
<rect x="1043" y="557" width="3" height="1" fill="#c0c0c0"/>
<rect x="1049" y="557" width="3" height="1" fill="#c0c0c0"/>
<rect x="1055" y="557" width="3" height="1" fill="#c0c0c0"/>
<rect x="1061" y="557" width="3" height="1" fill="#c0c0c0"/>
<rect x="1067" y="557" width="3" height="1" fill="#c0c0c0"/>
<rect x="1073" y="557" width="3" height="1" fill="#c0c0c0"/>
<rect x="1079" y="557" width="3" height="1" fill="#c0c0c0"/>
<rect x="1085" y="557" width="3" height="1" fill="#c0c0c0"/>
<rect x="1091" y="557" width="3" height="1" fill="#c0c0c0"/>
<rect x="1097" y="557" width="3" height="1" fill="#c0c0c0"/>
<rect x="1103" y="557" width="3" height="1" fill="#c0c0c0"/>
<rect x="1109" y="557" width="3" height="1" fill="#c0c0c0"/>
<rect x="1115" y="557" width="3" height="1" fill="#c0c0c0"/>
<rect x="1121" y="557" width="3" height="1" fill="#c0c0c0"/>
<rect x="1127" y="557" width="3" height="1" fill="#c0c0c0"/>
<rect x="1133" y="557" width="3" height="1" fill="#c0c0c0"/>
<rect x="1139" y="557" width="3" height="1" fill="#c0c0c0"/>
<rect x="1145" y="557" width="3" height="1" fill="#c0c0c0"/>
<rect x="1151" y="557" width="3" height="1" fill="#c0c0c0"/>
<rect x="1157" y="557" width="3" height="1" fill="#c0c0c0"/>
<rect x="1163" y="557" width="3" height="1" fill="#c0c0c0"/>
<rect x="1169" y="557" width="3" height="1" fill="#c0c0c0"/>
<rect x="1175" y="557" width="3" height="1" fill="#c0c0c0"/>
<rect x="1181" y="557" width="3" height="1" fill="#c0c0c0"/>
<rect x="1187" y="557" width="3" height="1" fill="#c0c0c0"/>
<rect x="1193" y="557" width="3" height="1" fill="#c0c0c0"/>
<rect x="1199" y="557" width="3" height="1" fill="#c0c0c0"/>
<rect x="1205" y="557" width="3" height="1" fill="#c0c0c0"/>
<rect x="1211" y="557" width="3" height="1" fill="#c0c0c0"/>
<rect x="1217" y="557" width="3" height="1" fill="#c0c0c0"/>
<rect x="1223" y="557" width="3" height="1" fill="#c0c0c0"/>
<rect x="1229" y="557" width="3" height="1" fill="#c0c0c0"/>
<rect x="1235" y="557" width="3" height="1" fill="#c0c0c0"/>
<rect x="1241" y="557" width="3" height="1" fill="#c0c0c0"/>
<rect x="1247" y="557" width="3" height="1" fill="#c0c0c0"/>
<rect x="1253" y="557" width="3" height="1" fill="#c0c0c0"/>
<rect x="1259" y="557" width="3" height="1" fill="#c0c0c0"/>
<rect x="1265" y="557" width="3" height="1" fill="#c0c0c0"/>
<rect x="1271" y="557" width="3" height="1" fill="#c0c0c0"/>
<rect x="1277" y="557" width="3" height="1" fill="#c0c0c0"/>
<rect x="1283" y="557" width="3" height="1" fill="#c0c0c0"/>
<rect x="1289" y="557" width="3" height="1" fill="#c0c0c0"/>
<rect x="1295" y="557" width="3" height="1" fill="#c0c0c0"/>
<rect x="1301" y="557" width="3" height="1" fill="#c0c0c0"/>
<rect x="1307" y="557" width="3" height="1" fill="#c0c0c0"/>
<rect x="1313" y="557" width="3" height="1" fill="#c0c0c0"/>
<rect x="1319" y="557" width="3" height="1" fill="#c0c0c0"/>
<rect x="1325" y="557" width="3" height="1" fill="#c0c0c0"/>
<rect x="1331" y="557" width="3" height="1" fill="#c0c0c0"/>
<rect x="1337" y="557" width="3" height="1" fill="#c0c0c0"/>
<rect x="1343" y="557" width="3" height="1" fill="#c0c0c0"/>
<rect x="1349" y="557" width="3" height="1" fill="#c0c0c0"/>
<rect x="1355" y="557" width="3" height="1" fill="#c0c0c0"/>
<rect x="1361" y="557" width="3" height="1" fill="#c0c0c0"/>
<rect x="1367" y="557" width="3" height="1" fill="#c0c0c0"/>
<rect x="1373" y="557" width="3" height="1" fill="#c0c0c0"/>
<rect x="1379" y="557" width="3" height="1" fill="#c0c0c0"/>
<rect x="1385" y="557" width="3" height="1" fill="#c0c0c0"/>
<rect x="1391" y="557" width="3" height="1" fill="#c0c0c0"/>
<rect x="1397" y="557" width="3" height="1" fill="#c0c0c0"/>
<rect x="1403" y="557" width="3" height="1" fill="#c0c0c0"/>
<rect x="1409" y="557" width="3" height="1" fill="#c0c0c0"/>
<rect x="1415" y="557" width="3" height="1" fill="#c0c0c0"/>
<rect x="1421" y="557" width="3" height="1" fill="#c0c0c0"/>
<rect x="1427" y="557" width="3" height="1" fill="#c0c0c0"/>
<rect x="1433" y="557" width="3" height="1" fill="#c0c0c0"/>
<rect x="1439" y="557" width="3" height="1" fill="#c0c0c0"/>
<rect x="1445" y="557" width="3" height="1" fill="#c0c0c0"/>
<rect x="1451" y="557" width="3" height="1" fill="#c0c0c0"/>
<rect x="1457" y="557" width="3" height="1" fill="#c0c0c0"/>
<rect x="1463" y="557" width="3" height="1" fill="#c0c0c0"/>
<rect x="1469" y="557" width="3" height="1" fill="#c0c0c0"/>
<rect x="1475" y="557" width="3" height="1" fill="#c0c0c0"/>
<rect x="1481" y="557" width="3" height="1" fill="#c0c0c0"/>
<rect x="1487" y="557" width="3" height="1" fill="#c0c0c0"/>
<rect x="1493" y="557" width="3" height="1" fill="#c0c0c0"/>
<rect x="1499" y="557" width="3" height="1" fill="#c0c0c0"/>
<rect x="1505" y="557" width="3" height="1" fill="#c0c0c0"/>
<rect x="1511" y="557" width="3" height="1" fill="#c0c0c0"/>
<rect x="1517" y="557" width="3" height="1" fill="#c0c0c0"/>
<rect x="1523" y="557" width="3" height="1" fill="#c0c0c0"/>
<rect x="1529" y="557" width="3" height="1" fill="#c0c0c0"/>
<rect x="1535" y="557" width="3" height="1" fill="#c0c0c0"/>
<rect x="1541" y="557" width="3" height="1" fill="#c0c0c0"/>
<rect x="1547" y="557" width="3" height="1" fill="#c0c0c0"/>
<rect x="1553" y="557" width="3" height="1" fill="#c0c0c0"/>
<rect x="1559" y="557" width="3" height="1" fill="#c0c0c0"/>
<rect x="1565" y="557" width="3" height="1" fill="#c0c0c0"/>
<rect x="1571" y="557" width="3" height="1" fill="#c0c0c0"/>
<rect x="1577" y="557" width="3" height="1" fill="#c0c0c0"/>
<rect x="1583" y="557" width="3" height="1" fill="#c0c0c0"/>
<rect x="1589" y="557" width="3" height="1" fill="#c0c0c0"/>
<rect x="1595" y="557" width="3" height="1" fill="#c0c0c0"/>
<rect x="5" y="593" width="3" height="1" fill="#c0c0c0"/>
<rect x="11" y="593" width="3" height="1" fill="#c0c0c0"/>
<rect x="17" y="593" width="3" height="1" fill="#c0c0c0"/>
<rect x="23" y="593" width="3" height="1" fill="#c0c0c0"/>
<rect x="29" y="593" width="3" height="1" fill="#c0c0c0"/>
<rect x="35" y="593" width="3" height="1" fill="#c0c0c0"/>
<rect x="41" y="593" width="3" height="1" fill="#c0c0c0"/>
<rect x="47" y="593" width="3" height="1" fill="#c0c0c0"/>
<rect x="53" y="593" width="3" height="1" fill="#c0c0c0"/>
<rect x="59" y="593" width="3" height="1" fill="#c0c0c0"/>
<rect x="65" y="593" width="3" height="1" fill="#c0c0c0"/>
<rect x="71" y="593" width="3" height="1" fill="#c0c0c0"/>
<rect x="77" y="593" width="3" height="1" fill="#c0c0c0"/>
<rect x="83" y="593" width="3" height="1" fill="#c0c0c0"/>
<rect x="89" y="593" width="3" height="1" fill="#c0c0c0"/>
<rect x="95" y="593" width="3" height="1" fill="#c0c0c0"/>
<rect x="101" y="593" width="3" height="1" fill="#c0c0c0"/>
<rect x="107" y="593" width="3" height="1" fill="#c0c0c0"/>
<rect x="113" y="593" width="3" height="1" fill="#c0c0c0"/>
<rect x="119" y="593" width="3" height="1" fill="#c0c0c0"/>
<rect x="125" y="593" width="3" height="1" fill="#c0c0c0"/>
<rect x="131" y="593" width="3" height="1" fill="#c0c0c0"/>
<rect x="137" y="593" width="3" height="1" fill="#c0c0c0"/>
<rect x="143" y="593" width="3" height="1" fill="#c0c0c0"/>
<rect x="149" y="593" width="3" height="1" fill="#c0c0c0"/>
<rect x="155" y="593" width="3" height="1" fill="#c0c0c0"/>
<rect x="161" y="593" width="3" height="1" fill="#c0c0c0"/>
<rect x="167" y="593" width="3" height="1" fill="#c0c0c0"/>
<rect x="173" y="593" width="3" height="1" fill="#c0c0c0"/>
<rect x="179" y="593" width="3" height="1" fill="#c0c0c0"/>
<rect x="185" y="593" width="3" height="1" fill="#c0c0c0"/>
<rect x="191" y="593" width="3" height="1" fill="#c0c0c0"/>
<rect x="197" y="593" width="3" height="1" fill="#c0c0c0"/>
<rect x="203" y="593" width="3" height="1" fill="#c0c0c0"/>
<rect x="209" y="593" width="3" height="1" fill="#c0c0c0"/>
<rect x="215" y="593" width="3" height="1" fill="#c0c0c0"/>
<rect x="221" y="593" width="3" height="1" fill="#c0c0c0"/>
<rect x="227" y="593" width="3" height="1" fill="#c0c0c0"/>
<rect x="233" y="593" width="3" height="1" fill="#c0c0c0"/>
<rect x="239" y="593" width="3" height="1" fill="#c0c0c0"/>
<rect x="245" y="593" width="3" height="1" fill="#c0c0c0"/>
<rect x="251" y="593" width="3" height="1" fill="#c0c0c0"/>
<rect x="257" y="593" width="3" height="1" fill="#c0c0c0"/>
<rect x="263" y="593" width="3" height="1" fill="#c0c0c0"/>
<rect x="269" y="593" width="3" height="1" fill="#c0c0c0"/>
<rect x="275" y="593" width="3" height="1" fill="#c0c0c0"/>
<rect x="281" y="593" width="3" height="1" fill="#c0c0c0"/>
<rect x="287" y="593" width="3" height="1" fill="#c0c0c0"/>
<rect x="293" y="593" width="3" height="1" fill="#c0c0c0"/>
<rect x="299" y="593" width="3" height="1" fill="#c0c0c0"/>
<rect x="305" y="593" width="3" height="1" fill="#c0c0c0"/>
<rect x="311" y="593" width="3" height="1" fill="#c0c0c0"/>
<rect x="317" y="593" width="3" height="1" fill="#c0c0c0"/>
<rect x="323" y="593" width="3" height="1" fill="#c0c0c0"/>
<rect x="329" y="593" width="3" height="1" fill="#c0c0c0"/>
<rect x="335" y="593" width="3" height="1" fill="#c0c0c0"/>
<rect x="341" y="593" width="3" height="1" fill="#c0c0c0"/>
<rect x="347" y="593" width="3" height="1" fill="#c0c0c0"/>
<rect x="353" y="593" width="3" height="1" fill="#c0c0c0"/>
<rect x="359" y="593" width="3" height="1" fill="#c0c0c0"/>
<rect x="365" y="593" width="3" height="1" fill="#c0c0c0"/>
<rect x="371" y="593" width="3" height="1" fill="#c0c0c0"/>
<rect x="377" y="593" width="3" height="1" fill="#c0c0c0"/>
<rect x="383" y="593" width="3" height="1" fill="#c0c0c0"/>
<rect x="389" y="593" width="3" height="1" fill="#c0c0c0"/>
<rect x="395" y="593" width="3" height="1" fill="#c0c0c0"/>
<rect x="401" y="593" width="3" height="1" fill="#c0c0c0"/>
<rect x="407" y="593" width="3" height="1" fill="#c0c0c0"/>
<rect x="413" y="593" width="3" height="1" fill="#c0c0c0"/>
<rect x="419" y="593" width="3" height="1" fill="#c0c0c0"/>
<rect x="425" y="593" width="3" height="1" fill="#c0c0c0"/>
<rect x="431" y="593" width="3" height="1" fill="#c0c0c0"/>
<rect x="437" y="593" width="3" height="1" fill="#c0c0c0"/>
<rect x="443" y="593" width="3" height="1" fill="#c0c0c0"/>
<rect x="449" y="593" width="3" height="1" fill="#c0c0c0"/>
<rect x="455" y="593" width="3" height="1" fill="#c0c0c0"/>
<rect x="461" y="593" width="3" height="1" fill="#c0c0c0"/>
<rect x="467" y="593" width="3" height="1" fill="#c0c0c0"/>
<rect x="473" y="593" width="3" height="1" fill="#c0c0c0"/>
<rect x="479" y="593" width="3" height="1" fill="#c0c0c0"/>
<rect x="485" y="593" width="3" height="1" fill="#c0c0c0"/>
<rect x="491" y="593" width="3" height="1" fill="#c0c0c0"/>
<rect x="497" y="593" width="3" height="1" fill="#c0c0c0"/>
<rect x="503" y="593" width="3" height="1" fill="#c0c0c0"/>
<rect x="509" y="593" width="3" height="1" fill="#c0c0c0"/>
<rect x="515" y="593" width="3" height="1" fill="#c0c0c0"/>
<rect x="521" y="593" width="3" height="1" fill="#c0c0c0"/>
<rect x="527" y="593" width="3" height="1" fill="#c0c0c0"/>
<rect x="533" y="593" width="3" height="1" fill="#c0c0c0"/>
<rect x="539" y="593" width="3" height="1" fill="#c0c0c0"/>
<rect x="545" y="593" width="3" height="1" fill="#c0c0c0"/>
<rect x="551" y="593" width="3" height="1" fill="#c0c0c0"/>
<rect x="557" y="593" width="3" height="1" fill="#c0c0c0"/>
<rect x="563" y="593" width="3" height="1" fill="#c0c0c0"/>
<rect x="569" y="593" width="3" height="1" fill="#c0c0c0"/>
<rect x="575" y="593" width="3" height="1" fill="#c0c0c0"/>
<rect x="581" y="593" width="3" height="1" fill="#c0c0c0"/>
<rect x="587" y="593" width="3" height="1" fill="#c0c0c0"/>
<rect x="593" y="593" width="3" height="1" fill="#c0c0c0"/>
<rect x="599" y="593" width="3" height="1" fill="#c0c0c0"/>
<rect x="605" y="593" width="3" height="1" fill="#c0c0c0"/>
<rect x="611" y="593" width="3" height="1" fill="#c0c0c0"/>
<rect x="617" y="593" width="3" height="1" fill="#c0c0c0"/>
<rect x="623" y="593" width="3" height="1" fill="#c0c0c0"/>
<rect x="629" y="593" width="3" height="1" fill="#c0c0c0"/>
<rect x="635" y="593" width="3" height="1" fill="#c0c0c0"/>
<rect x="641" y="593" width="3" height="1" fill="#c0c0c0"/>
<rect x="647" y="593" width="3" height="1" fill="#c0c0c0"/>
<rect x="653" y="593" width="3" height="1" fill="#c0c0c0"/>
<rect x="659" y="593" width="3" height="1" fill="#c0c0c0"/>
<rect x="665" y="593" width="3" height="1" fill="#c0c0c0"/>
<rect x="671" y="593" width="3" height="1" fill="#c0c0c0"/>
<rect x="677" y="593" width="3" height="1" fill="#c0c0c0"/>
<rect x="683" y="593" width="3" height="1" fill="#c0c0c0"/>
<rect x="689" y="593" width="3" height="1" fill="#c0c0c0"/>
<rect x="695" y="593" width="3" height="1" fill="#c0c0c0"/>
<rect x="701" y="593" width="3" height="1" fill="#c0c0c0"/>
<rect x="707" y="593" width="3" height="1" fill="#c0c0c0"/>
<rect x="713" y="593" width="3" height="1" fill="#c0c0c0"/>
<rect x="719" y="593" width="3" height="1" fill="#c0c0c0"/>
<rect x="725" y="593" width="3" height="1" fill="#c0c0c0"/>
<rect x="731" y="593" width="3" height="1" fill="#c0c0c0"/>
<rect x="737" y="593" width="3" height="1" fill="#c0c0c0"/>
<rect x="743" y="593" width="3" height="1" fill="#c0c0c0"/>
<rect x="749" y="593" width="3" height="1" fill="#c0c0c0"/>
<rect x="755" y="593" width="3" height="1" fill="#c0c0c0"/>
<rect x="761" y="593" width="3" height="1" fill="#c0c0c0"/>
<rect x="767" y="593" width="3" height="1" fill="#c0c0c0"/>
<rect x="773" y="593" width="3" height="1" fill="#c0c0c0"/>
<rect x="779" y="593" width="3" height="1" fill="#c0c0c0"/>
<rect x="785" y="593" width="3" height="1" fill="#c0c0c0"/>
<rect x="791" y="593" width="3" height="1" fill="#c0c0c0"/>
<rect x="797" y="593" width="3" height="1" fill="#c0c0c0"/>
<rect x="803" y="593" width="3" height="1" fill="#c0c0c0"/>
<rect x="809" y="593" width="3" height="1" fill="#c0c0c0"/>
<rect x="815" y="593" width="3" height="1" fill="#c0c0c0"/>
<rect x="821" y="593" width="3" height="1" fill="#c0c0c0"/>
<rect x="827" y="593" width="3" height="1" fill="#c0c0c0"/>
<rect x="833" y="593" width="3" height="1" fill="#c0c0c0"/>
<rect x="839" y="593" width="3" height="1" fill="#c0c0c0"/>
<rect x="845" y="593" width="3" height="1" fill="#c0c0c0"/>
<rect x="851" y="593" width="3" height="1" fill="#c0c0c0"/>
<rect x="857" y="593" width="3" height="1" fill="#c0c0c0"/>
<rect x="863" y="593" width="3" height="1" fill="#c0c0c0"/>
<rect x="869" y="593" width="3" height="1" fill="#c0c0c0"/>
<rect x="875" y="593" width="3" height="1" fill="#c0c0c0"/>
<rect x="881" y="593" width="3" height="1" fill="#c0c0c0"/>
<rect x="887" y="593" width="3" height="1" fill="#c0c0c0"/>
<rect x="893" y="593" width="3" height="1" fill="#c0c0c0"/>
<rect x="899" y="593" width="3" height="1" fill="#c0c0c0"/>
<rect x="905" y="593" width="3" height="1" fill="#c0c0c0"/>
<rect x="911" y="593" width="3" height="1" fill="#c0c0c0"/>
<rect x="917" y="593" width="3" height="1" fill="#c0c0c0"/>
<rect x="923" y="593" width="3" height="1" fill="#c0c0c0"/>
<rect x="929" y="593" width="3" height="1" fill="#c0c0c0"/>
<rect x="935" y="593" width="3" height="1" fill="#c0c0c0"/>
<rect x="941" y="593" width="3" height="1" fill="#c0c0c0"/>
<rect x="947" y="593" width="3" height="1" fill="#c0c0c0"/>
<rect x="953" y="593" width="3" height="1" fill="#c0c0c0"/>
<rect x="959" y="593" width="3" height="1" fill="#c0c0c0"/>
<rect x="965" y="593" width="3" height="1" fill="#c0c0c0"/>
<rect x="971" y="593" width="3" height="1" fill="#c0c0c0"/>
<rect x="977" y="593" width="3" height="1" fill="#c0c0c0"/>
<rect x="983" y="593" width="3" height="1" fill="#c0c0c0"/>
<rect x="989" y="593" width="3" height="1" fill="#c0c0c0"/>
<rect x="995" y="593" width="3" height="1" fill="#c0c0c0"/>
<rect x="1001" y="593" width="3" height="1" fill="#c0c0c0"/>
<rect x="1007" y="593" width="3" height="1" fill="#c0c0c0"/>
<rect x="1013" y="593" width="3" height="1" fill="#c0c0c0"/>
<rect x="1019" y="593" width="3" height="1" fill="#c0c0c0"/>
<rect x="1025" y="593" width="3" height="1" fill="#c0c0c0"/>
<rect x="1031" y="593" width="3" height="1" fill="#c0c0c0"/>
<rect x="1037" y="593" width="3" height="1" fill="#c0c0c0"/>
<rect x="1043" y="593" width="3" height="1" fill="#c0c0c0"/>
<rect x="1049" y="593" width="3" height="1" fill="#c0c0c0"/>
<rect x="1055" y="593" width="3" height="1" fill="#c0c0c0"/>
<rect x="1061" y="593" width="3" height="1" fill="#c0c0c0"/>
<rect x="1067" y="593" width="3" height="1" fill="#c0c0c0"/>
<rect x="1073" y="593" width="3" height="1" fill="#c0c0c0"/>
<rect x="1079" y="593" width="3" height="1" fill="#c0c0c0"/>
<rect x="1085" y="593" width="3" height="1" fill="#c0c0c0"/>
<rect x="1091" y="593" width="3" height="1" fill="#c0c0c0"/>
<rect x="1097" y="593" width="3" height="1" fill="#c0c0c0"/>
<rect x="1103" y="593" width="3" height="1" fill="#c0c0c0"/>
<rect x="1109" y="593" width="3" height="1" fill="#c0c0c0"/>
<rect x="1115" y="593" width="3" height="1" fill="#c0c0c0"/>
<rect x="1121" y="593" width="3" height="1" fill="#c0c0c0"/>
<rect x="1127" y="593" width="3" height="1" fill="#c0c0c0"/>
<rect x="1133" y="593" width="3" height="1" fill="#c0c0c0"/>
<rect x="1139" y="593" width="3" height="1" fill="#c0c0c0"/>
<rect x="1145" y="593" width="3" height="1" fill="#c0c0c0"/>
<rect x="1151" y="593" width="3" height="1" fill="#c0c0c0"/>
<rect x="1157" y="593" width="3" height="1" fill="#c0c0c0"/>
<rect x="1163" y="593" width="3" height="1" fill="#c0c0c0"/>
<rect x="1169" y="593" width="3" height="1" fill="#c0c0c0"/>
<rect x="1175" y="593" width="3" height="1" fill="#c0c0c0"/>
<rect x="1181" y="593" width="3" height="1" fill="#c0c0c0"/>
<rect x="1187" y="593" width="3" height="1" fill="#c0c0c0"/>
<rect x="1193" y="593" width="3" height="1" fill="#c0c0c0"/>
<rect x="1199" y="593" width="3" height="1" fill="#c0c0c0"/>
<rect x="1205" y="593" width="3" height="1" fill="#c0c0c0"/>
<rect x="1211" y="593" width="3" height="1" fill="#c0c0c0"/>
<rect x="1217" y="593" width="3" height="1" fill="#c0c0c0"/>
<rect x="1223" y="593" width="3" height="1" fill="#c0c0c0"/>
<rect x="1229" y="593" width="3" height="1" fill="#c0c0c0"/>
<rect x="1235" y="593" width="3" height="1" fill="#c0c0c0"/>
<rect x="1241" y="593" width="3" height="1" fill="#c0c0c0"/>
<rect x="1247" y="593" width="3" height="1" fill="#c0c0c0"/>
<rect x="1253" y="593" width="3" height="1" fill="#c0c0c0"/>
<rect x="1259" y="593" width="3" height="1" fill="#c0c0c0"/>
<rect x="1265" y="593" width="3" height="1" fill="#c0c0c0"/>
<rect x="1271" y="593" width="3" height="1" fill="#c0c0c0"/>
<rect x="1277" y="593" width="3" height="1" fill="#c0c0c0"/>
<rect x="1283" y="593" width="3" height="1" fill="#c0c0c0"/>
<rect x="1289" y="593" width="3" height="1" fill="#c0c0c0"/>
<rect x="1295" y="593" width="3" height="1" fill="#c0c0c0"/>
<rect x="1301" y="593" width="3" height="1" fill="#c0c0c0"/>
<rect x="1307" y="593" width="3" height="1" fill="#c0c0c0"/>
<rect x="1313" y="593" width="3" height="1" fill="#c0c0c0"/>
<rect x="1319" y="593" width="3" height="1" fill="#c0c0c0"/>
<rect x="1325" y="593" width="3" height="1" fill="#c0c0c0"/>
<rect x="1331" y="593" width="3" height="1" fill="#c0c0c0"/>
<rect x="1337" y="593" width="3" height="1" fill="#c0c0c0"/>
<rect x="1343" y="593" width="3" height="1" fill="#c0c0c0"/>
<rect x="1349" y="593" width="3" height="1" fill="#c0c0c0"/>
<rect x="1355" y="593" width="3" height="1" fill="#c0c0c0"/>
<rect x="1361" y="593" width="3" height="1" fill="#c0c0c0"/>
<rect x="1367" y="593" width="3" height="1" fill="#c0c0c0"/>
<rect x="1373" y="593" width="3" height="1" fill="#c0c0c0"/>
<rect x="1379" y="593" width="3" height="1" fill="#c0c0c0"/>
<rect x="1385" y="593" width="3" height="1" fill="#c0c0c0"/>
<rect x="1391" y="593" width="3" height="1" fill="#c0c0c0"/>
<rect x="1397" y="593" width="3" height="1" fill="#c0c0c0"/>
<rect x="1403" y="593" width="3" height="1" fill="#c0c0c0"/>
<rect x="1409" y="593" width="3" height="1" fill="#c0c0c0"/>
<rect x="1415" y="593" width="3" height="1" fill="#c0c0c0"/>
<rect x="1421" y="593" width="3" height="1" fill="#c0c0c0"/>
<rect x="1427" y="593" width="3" height="1" fill="#c0c0c0"/>
<rect x="1433" y="593" width="3" height="1" fill="#c0c0c0"/>
<rect x="1439" y="593" width="3" height="1" fill="#c0c0c0"/>
<rect x="1445" y="593" width="3" height="1" fill="#c0c0c0"/>
<rect x="1451" y="593" width="3" height="1" fill="#c0c0c0"/>
<rect x="1457" y="593" width="3" height="1" fill="#c0c0c0"/>
<rect x="1463" y="593" width="3" height="1" fill="#c0c0c0"/>
<rect x="1469" y="593" width="3" height="1" fill="#c0c0c0"/>
<rect x="1475" y="593" width="3" height="1" fill="#c0c0c0"/>
<rect x="1481" y="593" width="3" height="1" fill="#c0c0c0"/>
<rect x="1487" y="593" width="3" height="1" fill="#c0c0c0"/>
<rect x="1493" y="593" width="3" height="1" fill="#c0c0c0"/>
<rect x="1499" y="593" width="3" height="1" fill="#c0c0c0"/>
<rect x="1505" y="593" width="3" height="1" fill="#c0c0c0"/>
<rect x="1511" y="593" width="3" height="1" fill="#c0c0c0"/>
<rect x="1517" y="593" width="3" height="1" fill="#c0c0c0"/>
<rect x="1523" y="593" width="3" height="1" fill="#c0c0c0"/>
<rect x="1529" y="593" width="3" height="1" fill="#c0c0c0"/>
<rect x="1535" y="593" width="3" height="1" fill="#c0c0c0"/>
<rect x="1541" y="593" width="3" height="1" fill="#c0c0c0"/>
<rect x="1547" y="593" width="3" height="1" fill="#c0c0c0"/>
<rect x="1553" y="593" width="3" height="1" fill="#c0c0c0"/>
<rect x="1559" y="593" width="3" height="1" fill="#c0c0c0"/>
<rect x="1565" y="593" width="3" height="1" fill="#c0c0c0"/>
<rect x="1571" y="593" width="3" height="1" fill="#c0c0c0"/>
<rect x="1577" y="593" width="3" height="1" fill="#c0c0c0"/>
<rect x="1583" y="593" width="3" height="1" fill="#c0c0c0"/>
<rect x="1589" y="593" width="3" height="1" fill="#c0c0c0"/>
<rect x="1595" y="593" width="3" height="1" fill="#c0c0c0"/>
</g>
<polyline points="4.5,585.70 8.5,587.00 12.5,586.10 16.5,586.10 20.5,586.72 24.5,585.65 28.5,586.69 32.5,576.37 36.5,578.73 40.5,581.36 44.5,583.85 48.5,585.23 52.5,587.87 56.5,594.44 60.5,595.52 64.5,596.18 68.5,596.18 72.5,584.67 76.5,582.79 80.5,581.84 84.5,583.30 88.5,578.40 92.5,580.79 96.5,586.03 100.5,574.71 104.5,574.71 108.5,575.88 112.5,583.39 116.5,575.91 120.5,576.58 124.5,577.28 128.5,582.77 132.5,581.14 136.5,583.90 140.5,582.59 144.5,587.79 148.5,588.83 152.5,588.33 156.5,588.33 160.5,592.23 164.5,586.97 168.5,583.56 172.5,577.07 176.5,579.25 180.5,577.56 184.5,577.95 188.5,582.50 192.5,577.95 196.5,572.08 200.5,569.32 204.5,568.98 208.5,571.76 212.5,570.60 216.5,564.99 220.5,559.75 224.5,557.65 228.5,556.97 232.5,560.23 236.5,561.86 240.5,565.57 244.5,569.54 248.5,572.36 252.5,572.36 256.5,569.45 260.5,567.10 264.5,565.95 268.5,561.72 272.5,560.44 276.5,561.10 280.5,564.40 284.5,578.11 288.5,578.11 292.5,582.49 296.5,585.67 300.5,586.01 304.5,583.20 308.5,585.85 312.5,586.59 316.5,587.72 320.5,577.58 324.5,577.08 328.5,572.35 332.5,573.38 336.5,574.96 340.5,573.92 344.5,580.91 348.5,582.23 352.5,583.99 356.5,584.43 360.5,586.66 364.5,583.83 368.5,579.20 372.5,581.78 376.5,570.47 380.5,568.74 384.5,567.87 388.5,566.97 392.5,576.13 396.5,575.61 400.5,573.00 404.5,568.73 408.5,569.94 412.5,564.74 416.5,562.47 420.5,566.93 424.5,563.78 428.5,561.27 432.5,567.97 436.5,571.24 440.5,575.75 444.5,578.51 448.5,575.06 452.5,574.57 456.5,575.63 460.5,572.99 464.5,563.47 468.5,561.21 472.5,559.10 476.5,556.62 480.5,558.55 484.5,561.74 488.5,570.11 492.5,569.32 496.5,566.23 500.5,574.59 504.5,577.91 508.5,580.63 512.5,578.73 516.5,577.30 520.5,574.94 524.5,577.29 528.5,571.79 532.5,574.69 536.5,581.38 540.5,581.38 544.5,582.97 548.5,579.74 552.5,583.43 556.5,587.05 560.5,589.65 564.5,588.43 568.5,590.42 572.5,592.01 576.5,592.33 580.5,583.38 584.5,575.38 588.5,574.05 592.5,579.31 596.5,581.30 600.5,585.97 604.5,589.36 608.5,591.58 612.5,592.39 616.5,594.48 620.5,595.24 624.5,597.19 628.5,600.69 632.5,600.88 636.5,601.27 640.5,602.06 644.5,602.46 648.5,604.67 652.5,601.54 656.5,588.93 660.5,587.22 664.5,587.56 668.5,586.31 672.5,585.66 676.5,566.30 680.5,565.99 684.5,561.11 688.5,553.80 692.5,551.28 696.5,556.95 700.5,554.36 704.5,548.90 708.5,548.60 712.5,545.41 716.5,554.86 720.5,561.17 724.5,576.51 728.5,577.00 732.5,577.17 736.5,572.48 740.5,582.08 744.5,588.12 748.5,592.57 752.5,593.15 756.5,594.00 760.5,586.70 764.5,584.48 768.5,582.11 772.5,572.24 776.5,570.81 780.5,568.27 784.5,573.63 788.5,573.77 792.5,577.86 796.5,581.09 800.5,583.74 804.5,583.08 808.5,583.20 812.5,578.23 816.5,579.38 820.5,575.42 824.5,574.31 828.5,575.34 832.5,577.09 836.5,573.02 840.5,576.77 844.5,580.94 848.5,577.95 852.5,578.78 856.5,578.58 860.5,579.87 864.5,581.52 868.5,582.45 872.5,583.59 876.5,583.79 880.5,580.35 884.5,579.50 888.5,577.48 892.5,570.41 896.5,565.54 900.5,567.85 904.5,573.90 908.5,579.43 912.5,582.17 916.5,581.39 920.5,576.39 924.5,578.60 928.5,580.34 932.5,575.79 936.5,578.11 940.5,581.58 944.5,579.94 948.5,579.94 952.5,571.77 956.5,568.98 960.5,566.00 964.5,568.87 968.5,574.13 972.5,574.13 976.5,574.40 980.5,567.80 984.5,568.10 988.5,561.09 992.5,558.93 996.5,559.60 1000.5,558.31 1004.5,556.03 1008.5,552.20 1012.5,549.44 1016.5,552.54 1020.5,552.89 1024.5,553.27 1028.5,550.73 1032.5,550.50 1036.5,549.46 1040.5,565.27 1044.5,567.48 1048.5,564.89 1052.5,565.77 1056.5,570.10 1060.5,570.66 1064.5,573.23 1068.5,573.52 1072.5,567.01 1076.5,562.56 1080.5,568.23 1084.5,573.21 1088.5,573.72 1092.5,572.51 1096.5,572.01 1100.5,571.48 1104.5,569.62 1108.5,571.99 1112.5,571.70 1116.5,572.07 1120.5,564.98 1124.5,566.18 1128.5,563.38 1132.5,567.83 1136.5,565.94 1140.5,568.76 1144.5,562.63 1148.5,559.49 1152.5,559.49 1156.5,557.46 1160.5,557.06 1164.5,557.57 1168.5,556.89 1172.5,553.22 1176.5,548.21 1180.5,546.73 1184.5,546.19 1188.5,546.08 1192.5,542.35 1196.5,545.64 1200.5,544.38 1204.5,543.71 1208.5,542.82 1212.5,548.51 1216.5,554.18 1220.5,553.43 1224.5,547.70 1228.5,553.92 1232.5,562.95 1236.5,562.63 1240.5,565.30 1244.5,564.73 1248.5,562.49 1252.5,561.05 1256.5,560.15 1260.5,559.78 1264.5,557.59 1268.5,556.22" fill="none" stroke="#1e90ff" stroke-width="1" shape-rendering="crispEdges"/>
<rect x="1597" y="531" width="3" height="1" fill="#000"/>
<rect x="1597" y="621" width="3" height="1" fill="#000"/>
<text x="1600.6" y="540" font-size="10" fill="#000" textLength="14.3" lengthAdjust="spacingAndGlyphs">100</text>
<text x="1599.2" y="561" font-size="10" fill="#000" textLength="9.5" lengthAdjust="spacingAndGlyphs">70</text>
<text x="1599" y="597" font-size="10" fill="#000" textLength="9.7" lengthAdjust="spacingAndGlyphs">30</text>
<text x="1600.2" y="618" font-size="10" fill="#000" textLength="4.5" lengthAdjust="spacingAndGlyphs">0</text>
<text x="8.5" y="542" font-size="10" fill="#000" textLength="67.4" lengthAdjust="spacingAndGlyphs">RSI(14) 71.5157</text>
<g shape-rendering="crispEdges">
<rect x="4" y="680" width="1" height="4" fill="#c0c0c0"/>
<rect x="8" y="680" width="1" height="7" fill="#c0c0c0"/>
<rect x="12" y="680" width="1" height="8" fill="#c0c0c0"/>
<rect x="16" y="680" width="1" height="9" fill="#c0c0c0"/>
<rect x="20" y="680" width="1" height="10" fill="#c0c0c0"/>
<rect x="24" y="680" width="1" height="11" fill="#c0c0c0"/>
<rect x="28" y="680" width="1" height="11" fill="#c0c0c0"/>
<rect x="32" y="680" width="1" height="10" fill="#c0c0c0"/>
<rect x="36" y="680" width="1" height="9" fill="#c0c0c0"/>
<rect x="40" y="680" width="1" height="9" fill="#c0c0c0"/>
<rect x="44" y="680" width="1" height="9" fill="#c0c0c0"/>
<rect x="48" y="680" width="1" height="10" fill="#c0c0c0"/>
<rect x="52" y="680" width="1" height="11" fill="#c0c0c0"/>
<rect x="56" y="680" width="1" height="14" fill="#c0c0c0"/>
<rect x="60" y="680" width="1" height="16" fill="#c0c0c0"/>
<rect x="64" y="680" width="1" height="18" fill="#c0c0c0"/>
<rect x="68" y="680" width="1" height="19" fill="#c0c0c0"/>
<rect x="72" y="680" width="1" height="18" fill="#c0c0c0"/>
<rect x="76" y="680" width="1" height="17" fill="#c0c0c0"/>
<rect x="80" y="680" width="1" height="16" fill="#c0c0c0"/>
<rect x="84" y="680" width="1" height="15" fill="#c0c0c0"/>
<rect x="88" y="680" width="1" height="13" fill="#c0c0c0"/>
<rect x="92" y="680" width="1" height="12" fill="#c0c0c0"/>
<rect x="96" y="680" width="1" height="13" fill="#c0c0c0"/>
<rect x="100" y="680" width="1" height="11" fill="#c0c0c0"/>
<rect x="104" y="680" width="1" height="9" fill="#c0c0c0"/>
<rect x="108" y="680" width="1" height="8" fill="#c0c0c0"/>
<rect x="112" y="680" width="1" height="9" fill="#c0c0c0"/>
<rect x="116" y="680" width="1" height="7" fill="#c0c0c0"/>
<rect x="120" y="680" width="1" height="7" fill="#c0c0c0"/>
<rect x="124" y="680" width="1" height="6" fill="#c0c0c0"/>
<rect x="128" y="680" width="1" height="7" fill="#c0c0c0"/>
<rect x="132" y="680" width="1" height="7" fill="#c0c0c0"/>
<rect x="136" y="680" width="1" height="8" fill="#c0c0c0"/>
<rect x="140" y="680" width="1" height="9" fill="#c0c0c0"/>
<rect x="144" y="680" width="1" height="10" fill="#c0c0c0"/>
<rect x="148" y="680" width="1" height="12" fill="#c0c0c0"/>
<rect x="152" y="680" width="1" height="13" fill="#c0c0c0"/>
<rect x="156" y="680" width="1" height="14" fill="#c0c0c0"/>
<rect x="160" y="680" width="1" height="15" fill="#c0c0c0"/>
<rect x="164" y="680" width="1" height="15" fill="#c0c0c0"/>
<rect x="168" y="680" width="1" height="15" fill="#c0c0c0"/>
<rect x="172" y="680" width="1" height="13" fill="#c0c0c0"/>
<rect x="176" y="680" width="1" height="12" fill="#c0c0c0"/>
<rect x="180" y="680" width="1" height="11" fill="#c0c0c0"/>
<rect x="184" y="680" width="1" height="9" fill="#c0c0c0"/>
<rect x="188" y="680" width="1" height="10" fill="#c0c0c0"/>
<rect x="192" y="680" width="1" height="9" fill="#c0c0c0"/>
<rect x="196" y="680" width="1" height="7" fill="#c0c0c0"/>
<rect x="200" y="680" width="1" height="4" fill="#c0c0c0"/>
<rect x="204" y="680" width="1" height="3" fill="#c0c0c0"/>
<rect x="208" y="680" width="1" height="2" fill="#c0c0c0"/>
<rect x="212" y="679" width="1" height="2" fill="#c0c0c0"/>
<rect x="216" y="677" width="1" height="4" fill="#c0c0c0"/>
<rect x="220" y="674" width="1" height="7" fill="#c0c0c0"/>
<rect x="224" y="671" width="1" height="10" fill="#c0c0c0"/>
<rect x="228" y="668" width="1" height="13" fill="#c0c0c0"/>
<rect x="232" y="667" width="1" height="14" fill="#c0c0c0"/>
<rect x="236" y="666" width="1" height="15" fill="#c0c0c0"/>
<rect x="240" y="666" width="1" height="15" fill="#c0c0c0"/>
<rect x="244" y="667" width="1" height="14" fill="#c0c0c0"/>
<rect x="248" y="669" width="1" height="12" fill="#c0c0c0"/>
<rect x="252" y="670" width="1" height="11" fill="#c0c0c0"/>
<rect x="256" y="670" width="1" height="11" fill="#c0c0c0"/>
<rect x="260" y="670" width="1" height="11" fill="#c0c0c0"/>
<rect x="264" y="670" width="1" height="11" fill="#c0c0c0"/>
<rect x="268" y="669" width="1" height="12" fill="#c0c0c0"/>
<rect x="272" y="668" width="1" height="13" fill="#c0c0c0"/>
<rect x="276" y="668" width="1" height="13" fill="#c0c0c0"/>
<rect x="280" y="668" width="1" height="13" fill="#c0c0c0"/>
<rect x="284" y="670" width="1" height="11" fill="#c0c0c0"/>
<rect x="288" y="672" width="1" height="9" fill="#c0c0c0"/>
<rect x="292" y="675" width="1" height="6" fill="#c0c0c0"/>
<rect x="296" y="678" width="1" height="3" fill="#c0c0c0"/>
<rect x="300" y="680" width="1" height="1" fill="#c0c0c0"/>
<rect x="304" y="680" width="1" height="2" fill="#c0c0c0"/>
<rect x="308" y="680" width="1" height="4" fill="#c0c0c0"/>
<rect x="312" y="680" width="1" height="5" fill="#c0c0c0"/>
<rect x="316" y="680" width="1" height="7" fill="#c0c0c0"/>
<rect x="320" y="680" width="1" height="6" fill="#c0c0c0"/>
<rect x="324" y="680" width="1" height="6" fill="#c0c0c0"/>
<rect x="328" y="680" width="1" height="4" fill="#c0c0c0"/>
<rect x="332" y="680" width="1" height="4" fill="#c0c0c0"/>
<rect x="336" y="680" width="1" height="3" fill="#c0c0c0"/>
<rect x="340" y="680" width="1" height="2" fill="#c0c0c0"/>
<rect x="344" y="680" width="1" height="3" fill="#c0c0c0"/>
<rect x="348" y="680" width="1" height="4" fill="#c0c0c0"/>
<rect x="352" y="680" width="1" height="5" fill="#c0c0c0"/>
<rect x="356" y="680" width="1" height="6" fill="#c0c0c0"/>
<rect x="360" y="680" width="1" height="6" fill="#c0c0c0"/>
<rect x="364" y="680" width="1" height="7" fill="#c0c0c0"/>
<rect x="368" y="680" width="1" height="6" fill="#c0c0c0"/>
<rect x="372" y="680" width="1" height="6" fill="#c0c0c0"/>
<rect x="376" y="680" width="1" height="5" fill="#c0c0c0"/>
<rect x="380" y="680" width="1" height="3" fill="#c0c0c0"/>
<rect x="384" y="680" width="1" height="2" fill="#c0c0c0"/>
<rect x="388" y="679" width="1" height="2" fill="#c0c0c0"/>
<rect x="392" y="679" width="1" height="2" fill="#c0c0c0"/>
<rect x="396" y="679" width="1" height="2" fill="#c0c0c0"/>
<rect x="400" y="679" width="1" height="2" fill="#c0c0c0"/>
<rect x="404" y="678" width="1" height="3" fill="#c0c0c0"/>
<rect x="408" y="678" width="1" height="3" fill="#c0c0c0"/>
<rect x="412" y="676" width="1" height="5" fill="#c0c0c0"/>
<rect x="416" y="675" width="1" height="6" fill="#c0c0c0"/>
<rect x="420" y="674" width="1" height="7" fill="#c0c0c0"/>
<rect x="424" y="673" width="1" height="8" fill="#c0c0c0"/>
<rect x="428" y="672" width="1" height="9" fill="#c0c0c0"/>
<rect x="432" y="672" width="1" height="9" fill="#c0c0c0"/>
<rect x="436" y="672" width="1" height="9" fill="#c0c0c0"/>
<rect x="440" y="674" width="1" height="7" fill="#c0c0c0"/>
<rect x="444" y="675" width="1" height="6" fill="#c0c0c0"/>
<rect x="448" y="676" width="1" height="5" fill="#c0c0c0"/>
<rect x="452" y="676" width="1" height="5" fill="#c0c0c0"/>
<rect x="456" y="677" width="1" height="4" fill="#c0c0c0"/>
<rect x="460" y="677" width="1" height="4" fill="#c0c0c0"/>
<rect x="464" y="675" width="1" height="6" fill="#c0c0c0"/>
<rect x="468" y="673" width="1" height="8" fill="#c0c0c0"/>
<rect x="472" y="671" width="1" height="10" fill="#c0c0c0"/>
<rect x="476" y="669" width="1" height="12" fill="#c0c0c0"/>
<rect x="480" y="668" width="1" height="13" fill="#c0c0c0"/>
<rect x="484" y="667" width="1" height="14" fill="#c0c0c0"/>
<rect x="488" y="668" width="1" height="13" fill="#c0c0c0"/>
<rect x="492" y="669" width="1" height="12" fill="#c0c0c0"/>
<rect x="496" y="669" width="1" height="12" fill="#c0c0c0"/>
<rect x="500" y="671" width="1" height="10" fill="#c0c0c0"/>
<rect x="504" y="673" width="1" height="8" fill="#c0c0c0"/>
<rect x="508" y="675" width="1" height="6" fill="#c0c0c0"/>
<rect x="512" y="676" width="1" height="5" fill="#c0c0c0"/>
<rect x="516" y="677" width="1" height="4" fill="#c0c0c0"/>
<rect x="520" y="678" width="1" height="3" fill="#c0c0c0"/>
<rect x="524" y="678" width="1" height="3" fill="#c0c0c0"/>
<rect x="528" y="678" width="1" height="3" fill="#c0c0c0"/>
<rect x="532" y="678" width="1" height="3" fill="#c0c0c0"/>
<rect x="536" y="680" width="1" height="1" fill="#c0c0c0"/>
<rect x="540" y="680" width="1" height="2" fill="#c0c0c0"/>
<rect x="544" y="680" width="1" height="3" fill="#c0c0c0"/>
<rect x="548" y="680" width="1" height="3" fill="#c0c0c0"/>
<rect x="552" y="680" width="1" height="4" fill="#c0c0c0"/>
<rect x="556" y="680" width="1" height="6" fill="#c0c0c0"/>
<rect x="560" y="680" width="1" height="8" fill="#c0c0c0"/>
<rect x="564" y="680" width="1" height="9" fill="#c0c0c0"/>
<rect x="568" y="680" width="1" height="10" fill="#c0c0c0"/>
<rect x="572" y="680" width="1" height="12" fill="#c0c0c0"/>
<rect x="576" y="680" width="1" height="13" fill="#c0c0c0"/>
<rect x="580" y="680" width="1" height="12" fill="#c0c0c0"/>
<rect x="584" y="680" width="1" height="11" fill="#c0c0c0"/>
<rect x="588" y="680" width="1" height="9" fill="#c0c0c0"/>
<rect x="592" y="680" width="1" height="8" fill="#c0c0c0"/>
<rect x="596" y="680" width="1" height="8" fill="#c0c0c0"/>
<rect x="600" y="680" width="1" height="9" fill="#c0c0c0"/>
<rect x="604" y="680" width="1" height="11" fill="#c0c0c0"/>
<rect x="608" y="680" width="1" height="12" fill="#c0c0c0"/>
<rect x="612" y="680" width="1" height="14" fill="#c0c0c0"/>
<rect x="616" y="680" width="1" height="16" fill="#c0c0c0"/>
<rect x="620" y="680" width="1" height="17" fill="#c0c0c0"/>
<rect x="624" y="680" width="1" height="18" fill="#c0c0c0"/>
<rect x="628" y="680" width="1" height="21" fill="#c0c0c0"/>
<rect x="632" y="680" width="1" height="23" fill="#c0c0c0"/>
<rect x="636" y="680" width="1" height="24" fill="#c0c0c0"/>
<rect x="640" y="680" width="1" height="25" fill="#c0c0c0"/>
<rect x="644" y="680" width="1" height="26" fill="#c0c0c0"/>
<rect x="648" y="680" width="1" height="27" fill="#c0c0c0"/>
<rect x="652" y="680" width="1" height="27" fill="#c0c0c0"/>
<rect x="656" y="680" width="1" height="26" fill="#c0c0c0"/>
<rect x="660" y="680" width="1" height="24" fill="#c0c0c0"/>
<rect x="664" y="680" width="1" height="22" fill="#c0c0c0"/>
<rect x="668" y="680" width="1" height="21" fill="#c0c0c0"/>
<rect x="672" y="680" width="1" height="19" fill="#c0c0c0"/>
<rect x="676" y="680" width="1" height="14" fill="#c0c0c0"/>
<rect x="680" y="680" width="1" height="10" fill="#c0c0c0"/>
<rect x="684" y="680" width="1" height="5" fill="#c0c0c0"/>
<rect x="688" y="678" width="1" height="3" fill="#c0c0c0"/>
<rect x="692" y="671" width="1" height="10" fill="#c0c0c0"/>
<rect x="696" y="667" width="1" height="14" fill="#c0c0c0"/>
<rect x="700" y="663" width="1" height="18" fill="#c0c0c0"/>
<rect x="704" y="656" width="1" height="25" fill="#c0c0c0"/>
<rect x="708" y="651" width="1" height="30" fill="#c0c0c0"/>
<rect x="712" y="644" width="1" height="37" fill="#c0c0c0"/>
<rect x="716" y="641" width="1" height="40" fill="#c0c0c0"/>
<rect x="720" y="641" width="1" height="40" fill="#c0c0c0"/>
<rect x="724" y="648" width="1" height="33" fill="#c0c0c0"/>
<rect x="728" y="654" width="1" height="27" fill="#c0c0c0"/>
<rect x="732" y="659" width="1" height="22" fill="#c0c0c0"/>
<rect x="736" y="661" width="1" height="20" fill="#c0c0c0"/>
<rect x="740" y="667" width="1" height="14" fill="#c0c0c0"/>
<rect x="744" y="677" width="1" height="4" fill="#c0c0c0"/>
<rect x="748" y="680" width="1" height="9" fill="#c0c0c0"/>
<rect x="752" y="680" width="1" height="19" fill="#c0c0c0"/>
<rect x="756" y="680" width="1" height="27" fill="#c0c0c0"/>
<rect x="760" y="680" width="1" height="30" fill="#c0c0c0"/>
<rect x="764" y="680" width="1" height="31" fill="#c0c0c0"/>
<rect x="768" y="680" width="1" height="30" fill="#c0c0c0"/>
<rect x="772" y="680" width="1" height="23" fill="#c0c0c0"/>
<rect x="776" y="680" width="1" height="17" fill="#c0c0c0"/>
<rect x="780" y="680" width="1" height="10" fill="#c0c0c0"/>
<rect x="784" y="680" width="1" height="7" fill="#c0c0c0"/>
<rect x="788" y="680" width="1" height="5" fill="#c0c0c0"/>
<rect x="792" y="680" width="1" height="6" fill="#c0c0c0"/>
<rect x="796" y="680" width="1" height="9" fill="#c0c0c0"/>
<rect x="800" y="680" width="1" height="12" fill="#c0c0c0"/>
<rect x="804" y="680" width="1" height="15" fill="#c0c0c0"/>
<rect x="808" y="680" width="1" height="17" fill="#c0c0c0"/>
<rect x="812" y="680" width="1" height="16" fill="#c0c0c0"/>
<rect x="816" y="680" width="1" height="16" fill="#c0c0c0"/>
<rect x="820" y="680" width="1" height="13" fill="#c0c0c0"/>
<rect x="824" y="680" width="1" height="11" fill="#c0c0c0"/>
<rect x="828" y="680" width="1" height="9" fill="#c0c0c0"/>
<rect x="832" y="680" width="1" height="9" fill="#c0c0c0"/>
<rect x="836" y="680" width="1" height="6" fill="#c0c0c0"/>
<rect x="840" y="680" width="1" height="6" fill="#c0c0c0"/>
<rect x="844" y="680" width="1" height="8" fill="#c0c0c0"/>
<rect x="848" y="680" width="1" height="8" fill="#c0c0c0"/>
<rect x="852" y="680" width="1" height="8" fill="#c0c0c0"/>
<rect x="856" y="680" width="1" height="8" fill="#c0c0c0"/>
<rect x="860" y="680" width="1" height="9" fill="#c0c0c0"/>
<rect x="864" y="680" width="1" height="10" fill="#c0c0c0"/>
<rect x="868" y="680" width="1" height="11" fill="#c0c0c0"/>
<rect x="872" y="680" width="1" height="13" fill="#c0c0c0"/>
<rect x="876" y="680" width="1" height="14" fill="#c0c0c0"/>
<rect x="880" y="680" width="1" height="13" fill="#c0c0c0"/>
<rect x="884" y="680" width="1" height="13" fill="#c0c0c0"/>
<rect x="888" y="680" width="1" height="11" fill="#c0c0c0"/>
<rect x="892" y="680" width="1" height="8" fill="#c0c0c0"/>
<rect x="896" y="680" width="1" height="3" fill="#c0c0c0"/>
<rect x="900" y="679" width="1" height="2" fill="#c0c0c0"/>
<rect x="904" y="679" width="1" height="2" fill="#c0c0c0"/>
<rect x="908" y="680" width="1" height="1" fill="#c0c0c0"/>
<rect x="912" y="680" width="1" height="4" fill="#c0c0c0"/>
<rect x="916" y="680" width="1" height="6" fill="#c0c0c0"/>
<rect x="920" y="680" width="1" height="5" fill="#c0c0c0"/>
<rect x="924" y="680" width="1" height="6" fill="#c0c0c0"/>
<rect x="928" y="680" width="1" height="7" fill="#c0c0c0"/>
<rect x="932" y="680" width="1" height="6" fill="#c0c0c0"/>
<rect x="936" y="680" width="1" height="6" fill="#c0c0c0"/>
<rect x="940" y="680" width="1" height="7" fill="#c0c0c0"/>
<rect x="944" y="680" width="1" height="8" fill="#c0c0c0"/>
<rect x="948" y="680" width="1" height="8" fill="#c0c0c0"/>
<rect x="952" y="680" width="1" height="6" fill="#c0c0c0"/>
<rect x="956" y="680" width="1" height="3" fill="#c0c0c0"/>
<rect x="960" y="678" width="1" height="3" fill="#c0c0c0"/>
<rect x="964" y="676" width="1" height="5" fill="#c0c0c0"/>
<rect x="968" y="676" width="1" height="5" fill="#c0c0c0"/>
<rect x="972" y="676" width="1" height="5" fill="#c0c0c0"/>
<rect x="976" y="677" width="1" height="4" fill="#c0c0c0"/>
<rect x="980" y="674" width="1" height="7" fill="#c0c0c0"/>
<rect x="984" y="673" width="1" height="8" fill="#c0c0c0"/>
<rect x="988" y="669" width="1" height="12" fill="#c0c0c0"/>
<rect x="992" y="665" width="1" height="16" fill="#c0c0c0"/>
<rect x="996" y="662" width="1" height="19" fill="#c0c0c0"/>
<rect x="1000" y="659" width="1" height="22" fill="#c0c0c0"/>
<rect x="1004" y="656" width="1" height="25" fill="#c0c0c0"/>
<rect x="1008" y="651" width="1" height="30" fill="#c0c0c0"/>
<rect x="1012" y="646" width="1" height="35" fill="#c0c0c0"/>
<rect x="1016" y="642" width="1" height="39" fill="#c0c0c0"/>
<rect x="1020" y="640" width="1" height="41" fill="#c0c0c0"/>
<rect x="1024" y="639" width="1" height="42" fill="#c0c0c0"/>
<rect x="1028" y="637" width="1" height="44" fill="#c0c0c0"/>
<rect x="1032" y="636" width="1" height="45" fill="#c0c0c0"/>
<rect x="1036" y="635" width="1" height="46" fill="#c0c0c0"/>
<rect x="1040" y="638" width="1" height="43" fill="#c0c0c0"/>
<rect x="1044" y="642" width="1" height="39" fill="#c0c0c0"/>
<rect x="1048" y="644" width="1" height="37" fill="#c0c0c0"/>
<rect x="1052" y="646" width="1" height="35" fill="#c0c0c0"/>
<rect x="1056" y="650" width="1" height="31" fill="#c0c0c0"/>
<rect x="1060" y="653" width="1" height="28" fill="#c0c0c0"/>
<rect x="1064" y="657" width="1" height="24" fill="#c0c0c0"/>
<rect x="1068" y="660" width="1" height="21" fill="#c0c0c0"/>
<rect x="1072" y="660" width="1" height="21" fill="#c0c0c0"/>
<rect x="1076" y="659" width="1" height="22" fill="#c0c0c0"/>
<rect x="1080" y="660" width="1" height="21" fill="#c0c0c0"/>
<rect x="1084" y="662" width="1" height="19" fill="#c0c0c0"/>
<rect x="1088" y="664" width="1" height="17" fill="#c0c0c0"/>
<rect x="1092" y="666" width="1" height="15" fill="#c0c0c0"/>
<rect x="1096" y="667" width="1" height="14" fill="#c0c0c0"/>
<rect x="1100" y="668" width="1" height="13" fill="#c0c0c0"/>
<rect x="1104" y="668" width="1" height="13" fill="#c0c0c0"/>
<rect x="1108" y="669" width="1" height="12" fill="#c0c0c0"/>
<rect x="1112" y="670" width="1" height="11" fill="#c0c0c0"/>
<rect x="1116" y="671" width="1" height="10" fill="#c0c0c0"/>
<rect x="1120" y="670" width="1" height="11" fill="#c0c0c0"/>
<rect x="1124" y="669" width="1" height="12" fill="#c0c0c0"/>
<rect x="1128" y="668" width="1" height="13" fill="#c0c0c0"/>
<rect x="1132" y="668" width="1" height="13" fill="#c0c0c0"/>
<rect x="1136" y="667" width="1" height="14" fill="#c0c0c0"/>
<rect x="1140" y="668" width="1" height="13" fill="#c0c0c0"/>
<rect x="1144" y="666" width="1" height="15" fill="#c0c0c0"/>
<rect x="1148" y="664" width="1" height="17" fill="#c0c0c0"/>
<rect x="1152" y="662" width="1" height="19" fill="#c0c0c0"/>
<rect x="1156" y="660" width="1" height="21" fill="#c0c0c0"/>
<rect x="1160" y="659" width="1" height="22" fill="#c0c0c0"/>
<rect x="1164" y="658" width="1" height="23" fill="#c0c0c0"/>
<rect x="1168" y="658" width="1" height="23" fill="#c0c0c0"/>
<rect x="1172" y="656" width="1" height="25" fill="#c0c0c0"/>
<rect x="1176" y="652" width="1" height="29" fill="#c0c0c0"/>
<rect x="1180" y="648" width="1" height="33" fill="#c0c0c0"/>
<rect x="1184" y="646" width="1" height="35" fill="#c0c0c0"/>
<rect x="1188" y="644" width="1" height="37" fill="#c0c0c0"/>
<rect x="1192" y="639" width="1" height="42" fill="#c0c0c0"/>
<rect x="1196" y="637" width="1" height="44" fill="#c0c0c0"/>
<rect x="1200" y="634" width="1" height="47" fill="#c0c0c0"/>
<rect x="1204" y="632" width="1" height="49" fill="#c0c0c0"/>
<rect x="1208" y="630" width="1" height="51" fill="#c0c0c0"/>
<rect x="1212" y="630" width="1" height="51" fill="#c0c0c0"/>
<rect x="1216" y="631" width="1" height="50" fill="#c0c0c0"/>
<rect x="1220" y="633" width="1" height="48" fill="#c0c0c0"/>
<rect x="1224" y="630" width="1" height="51" fill="#c0c0c0"/>
<rect x="1228" y="630" width="1" height="51" fill="#c0c0c0"/>
<rect x="1232" y="633" width="1" height="48" fill="#c0c0c0"/>
<rect x="1236" y="636" width="1" height="45" fill="#c0c0c0"/>
<rect x="1240" y="640" width="1" height="41" fill="#c0c0c0"/>
<rect x="1244" y="642" width="1" height="39" fill="#c0c0c0"/>
<rect x="1248" y="644" width="1" height="37" fill="#c0c0c0"/>
<rect x="1252" y="645" width="1" height="36" fill="#c0c0c0"/>
<rect x="1256" y="646" width="1" height="35" fill="#c0c0c0"/>
<rect x="1260" y="647" width="1" height="34" fill="#c0c0c0"/>
<rect x="1264" y="647" width="1" height="34" fill="#c0c0c0"/>
<rect x="1268" y="647" width="1" height="34" fill="#c0c0c0"/>
</g>
<polyline points="4.5,683.53 8.5,682.96 12.5,682.95 16.5,683.52 20.5,684.45 24.5,685.50 28.5,686.62 32.5,687.53 36.5,688.32 40.5,688.82 44.5,689.12 48.5,689.32 52.5,689.49 56.5,689.86 60.5,690.45 64.5,691.19 68.5,692.23 72.5,693.27 76.5,694.17 80.5,694.89 84.5,695.45 88.5,695.72 92.5,695.58 96.5,695.23 100.5,694.42 104.5,693.28 108.5,692.11 112.5,691.16 116.5,690.22 120.5,689.30 124.5,688.51 128.5,687.92 132.5,687.33 136.5,687.07 140.5,687.04 144.5,687.34 148.5,687.72 152.5,688.33 156.5,689.10 160.5,690.10 164.5,691.01 168.5,691.83 172.5,692.34 176.5,692.68 180.5,692.70 184.5,692.42 188.5,692.05 192.5,691.50 196.5,690.57 200.5,689.36 204.5,688.01 208.5,686.74 212.5,685.48 216.5,684.13 220.5,682.54 224.5,680.59 228.5,678.45 232.5,676.37 236.5,674.46 240.5,672.78 244.5,671.31 248.5,670.12 252.5,669.29 256.5,668.87 260.5,668.80 264.5,669.00 268.5,669.26 272.5,669.49 276.5,669.64 280.5,669.70 284.5,669.88 288.5,670.15 292.5,670.65 296.5,671.46 300.5,672.55 304.5,673.90 308.5,675.53 312.5,677.39 316.5,679.38 320.5,681.04 324.5,682.41 328.5,683.36 332.5,683.90 336.5,684.13 340.5,684.14 344.5,684.04 348.5,683.87 352.5,683.66 356.5,683.58 360.5,683.66 364.5,683.93 368.5,684.25 372.5,684.63 376.5,684.88 380.5,684.87 384.5,684.60 388.5,684.08 392.5,683.50 396.5,682.84 400.5,682.10 404.5,681.29 408.5,680.42 412.5,679.58 416.5,678.76 420.5,678.05 424.5,677.37 428.5,676.53 432.5,675.66 436.5,674.90 440.5,674.38 444.5,674.10 448.5,674.05 452.5,674.23 456.5,674.55 460.5,674.99 464.5,675.37 468.5,675.56 472.5,675.46 476.5,674.97 480.5,674.17 484.5,673.23 488.5,672.35 492.5,671.47 496.5,670.59 500.5,670.08 504.5,669.99 508.5,670.37 512.5,671.16 516.5,672.19 520.5,673.33 524.5,674.43 528.5,675.41 532.5,676.41 536.5,677.40 540.5,678.31 544.5,679.10 548.5,679.79 552.5,680.49 556.5,681.32 560.5,682.29 564.5,683.43 568.5,684.70 572.5,685.95 576.5,687.19 580.5,688.23 584.5,689.03 588.5,689.51 592.5,689.76 596.5,689.79 600.5,689.79 604.5,689.82 608.5,689.88 612.5,690.00 616.5,690.35 620.5,691.06 624.5,692.14 628.5,693.54 632.5,695.14 636.5,696.77 640.5,698.36 644.5,699.84 648.5,701.29 652.5,702.59 656.5,703.58 660.5,704.19 664.5,704.36 668.5,704.17 672.5,703.65 676.5,702.47 680.5,700.75 684.5,698.36 688.5,695.19 692.5,691.47 696.5,687.49 700.5,683.21 704.5,678.35 708.5,673.07 712.5,667.58 716.5,662.25 720.5,657.46 724.5,654.14 728.5,652.19 732.5,651.23 736.5,650.97 740.5,652.20 744.5,655.09 748.5,660.03 752.5,666.32 756.5,673.49 760.5,680.25 764.5,686.46 768.5,692.04 772.5,696.66 776.5,699.82 780.5,701.14 784.5,700.89 788.5,699.35 792.5,697.01 796.5,694.65 800.5,692.63 804.5,691.00 808.5,690.32 812.5,690.25 816.5,690.92 820.5,691.62 824.5,692.26 828.5,692.62 832.5,692.63 836.5,691.93 840.5,690.92 844.5,689.90 848.5,689.00 852.5,688.18 856.5,687.65 860.5,687.46 864.5,687.58 868.5,687.89 872.5,688.61 876.5,689.46 880.5,690.07 884.5,690.58 888.5,690.92 892.5,690.86 896.5,690.22 900.5,689.12 904.5,687.83 908.5,686.59 912.5,685.50 916.5,684.64 920.5,683.81 924.5,683.17 928.5,683.01 932.5,683.28 936.5,683.90 940.5,684.73 944.5,685.43 948.5,685.90 952.5,685.91 956.5,685.64 960.5,684.91 964.5,683.85 968.5,682.90 972.5,681.94 976.5,680.86 980.5,679.49 984.5,677.92 988.5,676.17 992.5,674.29 996.5,672.47 1000.5,670.57 1004.5,668.31 1008.5,665.52 1012.5,662.09 1016.5,658.54 1020.5,654.93 1024.5,651.65 1028.5,648.62 1032.5,645.78 1036.5,643.10 1040.5,641.15 1044.5,640.11 1048.5,639.94 1052.5,640.38 1056.5,641.43 1060.5,642.95 1064.5,645.09 1068.5,647.73 1072.5,650.55 1076.5,652.87 1080.5,654.87 1084.5,656.89 1088.5,658.90 1092.5,660.69 1096.5,662.25 1100.5,663.52 1104.5,664.48 1108.5,665.48 1112.5,666.71 1116.5,667.94 1120.5,668.75 1124.5,669.24 1128.5,669.42 1132.5,669.47 1136.5,669.37 1140.5,669.29 1144.5,668.93 1148.5,668.24 1152.5,667.29 1156.5,666.28 1160.5,665.18 1164.5,664.15 1168.5,663.04 1172.5,661.80 1176.5,660.08 1180.5,658.12 1184.5,656.08 1188.5,653.99 1192.5,651.61 1196.5,649.10 1200.5,646.38 1204.5,643.50 1208.5,640.57 1212.5,638.07 1216.5,636.15 1220.5,634.72 1224.5,633.25 1228.5,632.30 1232.5,631.95 1236.5,632.20 1240.5,633.06 1244.5,634.47 1248.5,636.07 1252.5,637.61 1256.5,639.09 1260.5,640.93 1264.5,642.77 1268.5,644.25" fill="none" stroke="#ff0000" stroke-width="1" stroke-dasharray="3,3" shape-rendering="crispEdges"/>
<rect x="1597" y="625" width="3" height="1" fill="#000"/>
<rect x="1597" y="680" width="3" height="1" fill="#000"/>
<rect x="1597" y="715" width="3" height="1" fill="#000"/>
<text x="1600.2" y="634" font-size="10" fill="#000" textLength="38" lengthAdjust="spacingAndGlyphs">0.014556</text>
<text x="1600.3" y="684" font-size="10" fill="#000" textLength="17.7" lengthAdjust="spacingAndGlyphs">0.00</text>
<text x="1600" y="712" font-size="10" fill="#000" textLength="36" lengthAdjust="spacingAndGlyphs">-0.00900</text>
<text x="8.5" y="636" font-size="10" fill="#000" textLength="133" lengthAdjust="spacingAndGlyphs">MACD(12,26,9) 0.008902 0.009704</text>
<rect x="4" y="716" width="1" height="3" fill="#000"/>
<text x="4" y="728" font-size="10" fill="#000" textLength="51.6" lengthAdjust="spacingAndGlyphs">15 Aug 2019</text>
<rect x="68" y="716" width="1" height="3" fill="#000"/>
<text x="68" y="728" font-size="10" fill="#000" textLength="46.5" lengthAdjust="spacingAndGlyphs">3 Sep 2019</text>
<rect x="132" y="716" width="1" height="3" fill="#000"/>
<text x="132" y="728" font-size="10" fill="#000" textLength="51.6" lengthAdjust="spacingAndGlyphs">21 Sep 2019</text>
<rect x="196" y="716" width="1" height="3" fill="#000"/>
<text x="196" y="728" font-size="10" fill="#000" textLength="49.6" lengthAdjust="spacingAndGlyphs">10 Oct 2019</text>
<rect x="260" y="716" width="1" height="3" fill="#000"/>
<text x="260" y="728" font-size="10" fill="#000" textLength="49.6" lengthAdjust="spacingAndGlyphs">29 Oct 2019</text>
<rect x="324" y="716" width="1" height="3" fill="#000"/>
<text x="324" y="728" font-size="10" fill="#000" textLength="51.6" lengthAdjust="spacingAndGlyphs">16 Nov 2019</text>
<rect x="388" y="716" width="1" height="3" fill="#000"/>
<text x="388" y="728" font-size="10" fill="#000" textLength="46.5" lengthAdjust="spacingAndGlyphs">5 Dec 2019</text>
<rect x="452" y="716" width="1" height="3" fill="#000"/>
<text x="452" y="728" font-size="10" fill="#000" textLength="51.6" lengthAdjust="spacingAndGlyphs">24 Dec 2019</text>
<rect x="516" y="716" width="1" height="3" fill="#000"/>
<text x="516" y="728" font-size="10" fill="#000" textLength="50.1" lengthAdjust="spacingAndGlyphs">11 Jan 2020</text>
<rect x="580" y="716" width="1" height="3" fill="#000"/>
<text x="580" y="728" font-size="10" fill="#000" textLength="50.1" lengthAdjust="spacingAndGlyphs">30 Jan 2020</text>
<rect x="644" y="716" width="1" height="3" fill="#000"/>
<text x="644" y="728" font-size="10" fill="#000" textLength="51.1" lengthAdjust="spacingAndGlyphs">18 Feb 2020</text>
<rect x="708" y="716" width="1" height="3" fill="#000"/>
<text x="708" y="728" font-size="10" fill="#000" textLength="46.0" lengthAdjust="spacingAndGlyphs">7 Mar 2020</text>
<rect x="772" y="716" width="1" height="3" fill="#000"/>
<text x="772" y="728" font-size="10" fill="#000" textLength="51.1" lengthAdjust="spacingAndGlyphs">26 Mar 2020</text>
<rect x="836" y="716" width="1" height="3" fill="#000"/>
<text x="836" y="728" font-size="10" fill="#000" textLength="49.6" lengthAdjust="spacingAndGlyphs">14 Apr 2020</text>
<rect x="900" y="716" width="1" height="3" fill="#000"/>
<text x="900" y="728" font-size="10" fill="#000" textLength="47.5" lengthAdjust="spacingAndGlyphs">2 May 2020</text>
<rect x="964" y="716" width="1" height="3" fill="#000"/>
<text x="964" y="728" font-size="10" fill="#000" textLength="52.6" lengthAdjust="spacingAndGlyphs">21 May 2020</text>
<rect x="1028" y="716" width="1" height="3" fill="#000"/>
<text x="1028" y="728" font-size="10" fill="#000" textLength="45.0" lengthAdjust="spacingAndGlyphs">9 Jun 2020</text>
<rect x="1092" y="716" width="1" height="3" fill="#000"/>
<text x="1092" y="728" font-size="10" fill="#000" textLength="50.1" lengthAdjust="spacingAndGlyphs">27 Jun 2020</text>
<rect x="1156" y="716" width="1" height="3" fill="#000"/>
<text x="1156" y="728" font-size="10" fill="#000" textLength="47.0" lengthAdjust="spacingAndGlyphs">16 Jul 2020</text>
<rect x="1220" y="716" width="1" height="3" fill="#000"/>
<text x="1220" y="728" font-size="10" fill="#000" textLength="46.5" lengthAdjust="spacingAndGlyphs">4 Aug 2020</text>
<rect x="0" y="737" width="1637" height="23" fill="#f0f0f0"/>
<rect x="108" y="738" width="1529" height="1" fill="#000"/>
<rect x="0" y="738" width="1" height="19" fill="#696969"/>
<rect x="5" y="737" width="104" height="20" fill="#fff"/>
<rect x="5" y="738" width="1" height="19" fill="#000"/>
<rect x="5" y="756" width="104" height="1" fill="#000"/>
<rect x="108" y="738" width="1" height="19" fill="#000"/>
<rect x="6" y="738" width="102" height="1" fill="#fff"/>
<rect x="0" y="738" width="6" height="1" fill="#000"/>
<text x="17.5" y="753" font-size="12" fill="#000" textLength="80" lengthAdjust="spacingAndGlyphs">EURUSD,Daily</text>
<text x="119.5" y="753" font-size="12" fill="#5a5a5a" textLength="78.0" lengthAdjust="spacingAndGlyphs">USDCHF,Daily</text>
<rect x="209" y="743" width="1" height="13" fill="#6d6d6d"/>
<text x="220.3" y="753" font-size="12" fill="#5a5a5a" textLength="81.2" lengthAdjust="spacingAndGlyphs">AUDUSD,Daily</text>
<rect x="313" y="743" width="1" height="13" fill="#6d6d6d"/>
<text x="324.3" y="753" font-size="12" fill="#5a5a5a" textLength="81.5" lengthAdjust="spacingAndGlyphs">USDCAD,Daily</text>
<rect x="417" y="743" width="1" height="13" fill="#6d6d6d"/>
<text x="427" y="753" font-size="12" fill="#5a5a5a" textLength="82.5" lengthAdjust="spacingAndGlyphs">USDCNH,Daily</text>
<rect x="521" y="743" width="1" height="13" fill="#6d6d6d"/>
<text x="533" y="753" font-size="12" fill="#5a5a5a" textLength="81" lengthAdjust="spacingAndGlyphs">EURUSD,Daily</text>
<rect x="626" y="743" width="1" height="13" fill="#6d6d6d"/>
<text x="637.4" y="753" font-size="12" fill="#5a5a5a" textLength="67.6" lengthAdjust="spacingAndGlyphs">GBPUSD,H4</text>
<rect x="717" y="743" width="1" height="13" fill="#6d6d6d"/>
<text x="728" y="753" font-size="12" fill="#5a5a5a" textLength="69" lengthAdjust="spacingAndGlyphs">XAUUSD,H1</text>
<rect x="809" y="743" width="1" height="13" fill="#6d6d6d"/>
<text x="820" y="753" font-size="12" fill="#5a5a5a" textLength="49.5" lengthAdjust="spacingAndGlyphs">HK50,H1</text>
<rect x="881" y="743" width="1" height="13" fill="#6d6d6d"/>
<text x="892.4" y="753" font-size="12" fill="#5a5a5a" textLength="56.9" lengthAdjust="spacingAndGlyphs">UK100,H1</text>
<rect x="961" y="743" width="1" height="13" fill="#6d6d6d"/>
<text x="972.3" y="753" font-size="12" fill="#5a5a5a" textLength="57.0" lengthAdjust="spacingAndGlyphs">UK100,H1</text>
<rect x="1041" y="743" width="1" height="13" fill="#6d6d6d"/>
<text x="1052.3" y="753" font-size="12" fill="#5a5a5a" textLength="56.7" lengthAdjust="spacingAndGlyphs">GER30,H1</text>
<rect x="1121" y="743" width="1" height="13" fill="#6d6d6d"/>
<text x="1131" y="753" font-size="12" fill="#5a5a5a" textLength="54.6" lengthAdjust="spacingAndGlyphs">FRA40,H1</text>
<rect x="1197" y="743" width="1" height="13" fill="#6d6d6d"/>
<text x="1207.3" y="753" font-size="12" fill="#5a5a5a" textLength="50.3" lengthAdjust="spacingAndGlyphs">USOil,H4</text>
<rect x="1269" y="743" width="1" height="13" fill="#6d6d6d"/>
<text x="1279.5" y="753" font-size="12" fill="#5a5a5a" textLength="61.8" lengthAdjust="spacingAndGlyphs">USDJPY,H1</text>
<rect x="1353" y="743" width="1" height="13" fill="#6d6d6d"/>
<text x="1363.4" y="753" font-size="12" fill="#5a5a5a" textLength="58.0" lengthAdjust="spacingAndGlyphs">DJ30,Daily</text>
<rect x="1433" y="743" width="1" height="13" fill="#6d6d6d"/>
<text x="1443.5" y="753" font-size="12" fill="#5a5a5a" textLength="77.8" lengthAdjust="spacingAndGlyphs">CHINA300,H1</text>
<rect x="1533" y="743" width="1" height="13" fill="#6d6d6d"/>
<text x="1543.5" y="753" font-size="12" fill="#5a5a5a" textLength="50.0" lengthAdjust="spacingAndGlyphs">USOil,H1</text>
<rect x="1605" y="743" width="1" height="13" fill="#6d6d6d"/>
<path d="M1613 748 L1616 745 L1616 751 Z" fill="#a0a0a0"/>
<path d="M1634 748 L1631 745 L1631 751 Z" fill="#000"/>
</svg></body></html>
